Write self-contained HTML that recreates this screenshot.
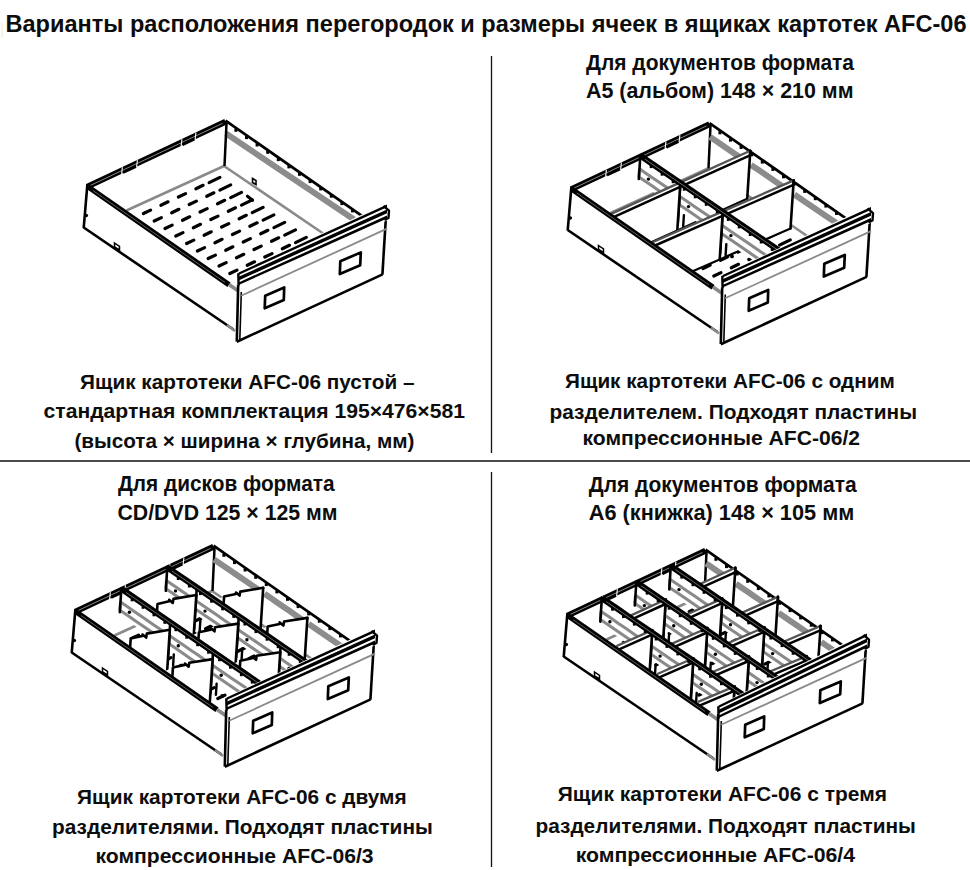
<!DOCTYPE html>
<html><head><meta charset="utf-8">
<style>
html,body{margin:0;padding:0;background:#fff;}
body{width:970px;height:870px;overflow:hidden;position:relative;}
svg{position:absolute;left:0;top:0;}
.t{font-family:"Liberation Sans",sans-serif;font-weight:bold;fill:#0d0d0d;}
</style></head><body>
<svg width="970" height="870" viewBox="0 0 970 870">
<g class="t">
<text x="5.5" y="32.3" font-size="23" textLength="961" lengthAdjust="spacingAndGlyphs">Варианты расположения перегородок и размеры ячеек в ящиках картотек AFC-06</text>
<g font-size="21.2">
<text x="586" y="69.5" textLength="268" lengthAdjust="spacingAndGlyphs">Для документов формата</text>
<text x="586" y="97.6" textLength="267.5" lengthAdjust="spacingAndGlyphs">A5 (альбом) 148 × 210 мм</text>
<text x="118" y="491.4" textLength="216.5" lengthAdjust="spacingAndGlyphs">Для дисков формата</text>
<text x="117.5" y="519.5" textLength="220" lengthAdjust="spacingAndGlyphs">CD/DVD 125 × 125 мм</text>
<text x="588.8" y="492.2" textLength="267.8" lengthAdjust="spacingAndGlyphs">Для документов формата</text>
<text x="588.8" y="519.8" textLength="265.5" lengthAdjust="spacingAndGlyphs">A6 (книжка) 148 × 105 мм</text>
</g>
<g font-size="19.8">
<text x="80" y="388.5" textLength="334.5" lengthAdjust="spacingAndGlyphs">Ящик картотеки AFC-06 пустой –</text>
<text x="43.5" y="418.4" textLength="421.5" lengthAdjust="spacingAndGlyphs">стандартная комплектация 195×476×581</text>
<text x="74.4" y="447.7" textLength="340" lengthAdjust="spacingAndGlyphs">(высота × ширина × глубина, мм)</text>
<text x="565" y="388.3" textLength="329.8" lengthAdjust="spacingAndGlyphs">Ящик картотеки AFC-06 с одним</text>
<text x="549.5" y="419.3" textLength="367.5" lengthAdjust="spacingAndGlyphs">разделителем. Подходят пластины</text>
<text x="582.5" y="445.1" textLength="277.6" lengthAdjust="spacingAndGlyphs">компрессионные AFC-06/2</text>
<text x="77.1" y="803.9" textLength="329.6" lengthAdjust="spacingAndGlyphs">Ящик картотеки AFC-06 с двумя</text>
<text x="52" y="833.6" textLength="380.8" lengthAdjust="spacingAndGlyphs">разделителями. Подходят пластины</text>
<text x="95.5" y="862.9" textLength="278.1" lengthAdjust="spacingAndGlyphs">компрессионные AFC-06/3</text>
<text x="557.7" y="800.8" textLength="329.3" lengthAdjust="spacingAndGlyphs">Ящик картотеки AFC-06 с тремя</text>
<text x="535.5" y="832.5" textLength="380.4" lengthAdjust="spacingAndGlyphs">разделителями. Подходят пластины</text>
<text x="575.7" y="861.5" textLength="279.4" lengthAdjust="spacingAndGlyphs">компрессионные AFC-06/4</text>
</g>
</g>
<g fill="none">
<line x1="0" y1="461" x2="970" y2="461" stroke-width="2" stroke="#4a4a4a"/>
<line x1="2" y1="23" x2="2" y2="38" stroke-width="1" stroke="#f0e8c4"/>
<line x1="491.5" y1="56" x2="491.5" y2="453" stroke-width="1.3" stroke="#111"/>
<line x1="491.5" y1="472" x2="491.5" y2="867" stroke-width="1.3" stroke="#111"/>
</g>

<g>
<line x1="126.5" y1="210.5" x2="224.0" y2="166.0" stroke="#8a8a8a" stroke-width="2.6" />
<line x1="224.0" y1="166.0" x2="332.0" y2="239.5" stroke="#8a8a8a" stroke-width="2.6" />
<line x1="226.0" y1="133.5" x2="354.0" y2="219.5" stroke="#8c8c8c" stroke-width="6" />
<line x1="226.6" y1="121.0" x2="224.5" y2="166.0" stroke="#000" stroke-width="2.5" />
<line x1="225.5" y1="120.6" x2="363.0" y2="216.6" stroke="#000" stroke-width="2.7" />
<rect x="234.4" y="128.6" width="3" height="3.2" fill="#000"/>
<rect x="245.0" y="135.9" width="3" height="3.2" fill="#000"/>
<rect x="255.6" y="143.3" width="3" height="3.2" fill="#000"/>
<rect x="266.2" y="150.6" width="3" height="3.2" fill="#000"/>
<rect x="276.8" y="157.9" width="3" height="3.2" fill="#000"/>
<rect x="287.4" y="165.2" width="3" height="3.2" fill="#000"/>
<rect x="298.0" y="172.6" width="3" height="3.2" fill="#000"/>
<rect x="308.6" y="179.9" width="3" height="3.2" fill="#000"/>
<rect x="319.2" y="187.2" width="3" height="3.2" fill="#000"/>
<rect x="329.8" y="194.5" width="3" height="3.2" fill="#000"/>
<rect x="340.4" y="201.9" width="3" height="3.2" fill="#000"/>
<rect x="351.0" y="209.2" width="3" height="3.2" fill="#000"/>
<line x1="87.4" y1="186.6" x2="225.5" y2="121.8" stroke="#000" stroke-width="6.0" />
<line x1="90.0" y1="185.6" x2="222.5" y2="123.4" stroke="#aaa" stroke-width="0.8" />
<line x1="123.0" y1="172.5" x2="136.0" y2="166.4" stroke="#000" stroke-width="3.0" />
<line x1="122.4" y1="167.2" x2="121.6" y2="174.4" stroke="#fff" stroke-width="1.1" />
<line x1="137.4" y1="160.1" x2="136.6" y2="167.3" stroke="#fff" stroke-width="1.1" />
<line x1="182.5" y1="144.6" x2="194.5" y2="138.9" stroke="#000" stroke-width="3.0" />
<line x1="181.9" y1="139.2" x2="181.1" y2="146.4" stroke="#fff" stroke-width="1.1" />
<line x1="195.9" y1="132.6" x2="195.1" y2="139.8" stroke="#fff" stroke-width="1.1" />
<line x1="143.4" y1="213.5" x2="150.6" y2="210.1" stroke="#000" stroke-width="3.2" stroke-linecap="round"/>
<line x1="160.9" y1="205.3" x2="168.1" y2="201.8" stroke="#000" stroke-width="3.2" stroke-linecap="round"/>
<line x1="178.4" y1="197.0" x2="185.6" y2="193.6" stroke="#000" stroke-width="3.2" stroke-linecap="round"/>
<line x1="195.9" y1="188.8" x2="203.1" y2="185.3" stroke="#000" stroke-width="3.2" stroke-linecap="round"/>
<line x1="209.1" y1="182.6" x2="219.9" y2="177.4" stroke="#000" stroke-width="3.2" stroke-linecap="round"/>
<line x1="154.2" y1="221.0" x2="161.4" y2="217.6" stroke="#000" stroke-width="3.2" stroke-linecap="round"/>
<line x1="171.7" y1="212.8" x2="178.9" y2="209.3" stroke="#000" stroke-width="3.2" stroke-linecap="round"/>
<line x1="189.2" y1="204.5" x2="196.4" y2="201.1" stroke="#000" stroke-width="3.2" stroke-linecap="round"/>
<line x1="206.7" y1="196.3" x2="213.9" y2="192.8" stroke="#000" stroke-width="3.2" stroke-linecap="round"/>
<line x1="219.9" y1="190.1" x2="230.7" y2="184.9" stroke="#000" stroke-width="3.2" stroke-linecap="round"/>
<line x1="165.0" y1="228.5" x2="172.2" y2="225.1" stroke="#000" stroke-width="3.2" stroke-linecap="round"/>
<line x1="182.5" y1="220.3" x2="189.7" y2="216.8" stroke="#000" stroke-width="3.2" stroke-linecap="round"/>
<line x1="200.0" y1="212.0" x2="207.2" y2="208.6" stroke="#000" stroke-width="3.2" stroke-linecap="round"/>
<line x1="217.5" y1="203.8" x2="224.7" y2="200.3" stroke="#000" stroke-width="3.2" stroke-linecap="round"/>
<line x1="230.7" y1="197.6" x2="241.5" y2="192.4" stroke="#000" stroke-width="3.2" stroke-linecap="round"/>
<line x1="175.8" y1="236.0" x2="183.0" y2="232.6" stroke="#000" stroke-width="3.2" stroke-linecap="round"/>
<line x1="193.3" y1="227.8" x2="200.5" y2="224.3" stroke="#000" stroke-width="3.2" stroke-linecap="round"/>
<line x1="210.8" y1="219.5" x2="218.0" y2="216.1" stroke="#000" stroke-width="3.2" stroke-linecap="round"/>
<line x1="228.3" y1="211.3" x2="235.5" y2="207.8" stroke="#000" stroke-width="3.2" stroke-linecap="round"/>
<line x1="241.5" y1="205.1" x2="252.3" y2="199.9" stroke="#000" stroke-width="3.2" stroke-linecap="round"/>
<line x1="186.6" y1="243.5" x2="193.8" y2="240.1" stroke="#000" stroke-width="3.2" stroke-linecap="round"/>
<line x1="204.1" y1="235.3" x2="211.3" y2="231.8" stroke="#000" stroke-width="3.2" stroke-linecap="round"/>
<line x1="221.6" y1="227.0" x2="228.8" y2="223.6" stroke="#000" stroke-width="3.2" stroke-linecap="round"/>
<line x1="239.1" y1="218.8" x2="246.3" y2="215.3" stroke="#000" stroke-width="3.2" stroke-linecap="round"/>
<line x1="252.3" y1="212.6" x2="263.1" y2="207.4" stroke="#000" stroke-width="3.2" stroke-linecap="round"/>
<line x1="197.4" y1="251.0" x2="204.6" y2="247.6" stroke="#000" stroke-width="3.2" stroke-linecap="round"/>
<line x1="214.9" y1="242.8" x2="222.1" y2="239.3" stroke="#000" stroke-width="3.2" stroke-linecap="round"/>
<line x1="232.4" y1="234.5" x2="239.6" y2="231.1" stroke="#000" stroke-width="3.2" stroke-linecap="round"/>
<line x1="249.9" y1="226.3" x2="257.1" y2="222.8" stroke="#000" stroke-width="3.2" stroke-linecap="round"/>
<line x1="263.1" y1="220.1" x2="273.9" y2="214.9" stroke="#000" stroke-width="3.2" stroke-linecap="round"/>
<line x1="208.2" y1="258.5" x2="215.4" y2="255.1" stroke="#000" stroke-width="3.2" stroke-linecap="round"/>
<line x1="225.7" y1="250.3" x2="232.9" y2="246.8" stroke="#000" stroke-width="3.2" stroke-linecap="round"/>
<line x1="243.2" y1="242.0" x2="250.4" y2="238.6" stroke="#000" stroke-width="3.2" stroke-linecap="round"/>
<line x1="260.7" y1="233.8" x2="267.9" y2="230.3" stroke="#000" stroke-width="3.2" stroke-linecap="round"/>
<line x1="273.9" y1="227.6" x2="284.7" y2="222.4" stroke="#000" stroke-width="3.2" stroke-linecap="round"/>
<line x1="219.0" y1="266.0" x2="226.2" y2="262.6" stroke="#000" stroke-width="3.2" stroke-linecap="round"/>
<line x1="236.5" y1="257.8" x2="243.7" y2="254.3" stroke="#000" stroke-width="3.2" stroke-linecap="round"/>
<line x1="254.0" y1="249.5" x2="261.2" y2="246.1" stroke="#000" stroke-width="3.2" stroke-linecap="round"/>
<line x1="271.5" y1="241.3" x2="278.7" y2="237.8" stroke="#000" stroke-width="3.2" stroke-linecap="round"/>
<line x1="284.7" y1="235.1" x2="295.5" y2="229.9" stroke="#000" stroke-width="3.2" stroke-linecap="round"/>
<line x1="229.8" y1="273.5" x2="237.0" y2="270.1" stroke="#000" stroke-width="3.2" stroke-linecap="round"/>
<line x1="247.3" y1="265.3" x2="254.5" y2="261.8" stroke="#000" stroke-width="3.2" stroke-linecap="round"/>
<line x1="264.8" y1="257.0" x2="272.0" y2="253.6" stroke="#000" stroke-width="3.2" stroke-linecap="round"/>
<line x1="282.3" y1="248.8" x2="289.5" y2="245.3" stroke="#000" stroke-width="3.2" stroke-linecap="round"/>
<line x1="295.5" y1="242.6" x2="306.3" y2="237.4" stroke="#000" stroke-width="3.2" stroke-linecap="round"/>
<line x1="247.4" y1="196.2" x2="252.6" y2="200.3" stroke="#000" stroke-width="3.0" stroke-linecap="round"/>
<polygon points="252.5,178.5 256.0,180.5 256.0,184.5 252.5,182.5" stroke="#000" stroke-width="1.6" fill="none" />
<polygon points="87.6,186.0 229.0,284.0 238.0,291.0 236.8,341.5 233.5,329.5 83.7,227.5" stroke="none" stroke-width="0" fill="#fff" />
<line x1="87.4" y1="184.2" x2="83.7" y2="228.0" stroke="#000" stroke-width="2.6" />
<line x1="83.7" y1="227.5" x2="233.5" y2="329.5" stroke="#000" stroke-width="2.6" />
<circle cx="86.3" cy="215.5" r="1.8" fill="#000"/>
<polygon points="114.5,243.0 119.5,246.5 119.5,250.0 114.5,247.0" stroke="#000" stroke-width="1.5" fill="none" />
<line x1="87.8" y1="186.6" x2="229.0" y2="284.8" stroke="#000" stroke-width="5.4" />
<line x1="93.0" y1="190.6" x2="225.0" y2="282.4" stroke="#777" stroke-width="0.8" />
<line x1="229.0" y1="284.5" x2="239.0" y2="291.5" stroke="#8a8a8a" stroke-width="3.6" />
<line x1="227.0" y1="325.0" x2="235.0" y2="331.0" stroke="#8a8a8a" stroke-width="2.5" />
<polygon points="238.2,284.0 386.0,219.0 382.4,274.2 236.8,341.5" stroke="none" stroke-width="0" fill="#fff" />
<line x1="238.2" y1="285.0" x2="236.8" y2="341.5" stroke="#000" stroke-width="2.6" />
<line x1="241.3" y1="292.0" x2="239.8" y2="340.2" stroke="#000" stroke-width="1.6" />
<line x1="236.8" y1="341.8" x2="382.6" y2="274.4" stroke="#000" stroke-width="2.6" />
<line x1="385.8" y1="218.8" x2="382.4" y2="274.6" stroke="#000" stroke-width="2.6" />
<line x1="241.1" y1="295.8" x2="387.0" y2="228.6" stroke="#8a8a8a" stroke-width="1.8" />
<polygon points="238.6,271.9 387.0,202.9 389.0,219.4 238.6,284.9" stroke="none" stroke-width="0" fill="#fff" />
<polygon points="238.6,272.4 387.0,204.4 387.0,207.3 238.6,274.9" stroke="none" stroke-width="0" fill="#000" />
<polygon points="238.6,276.8 387.0,209.4 387.0,213.3 238.6,280.4" stroke="none" stroke-width="0" fill="#000" />
<polygon points="238.6,282.4 387.0,215.4 387.0,218.6 238.6,285.0" stroke="none" stroke-width="0" fill="#000" />
<line x1="238.3" y1="273.3" x2="238.6" y2="285.5" stroke="#000" stroke-width="2.4" />
<polyline points="383.5,205.8 389.0,210.6 388.5,218.0 384.5,219.8" stroke="#000" stroke-width="2.4" fill="none" stroke-linejoin="round"/>
<polygon points="265.2,295.8 284.2,287.4 283.8,300.0 264.7,308.3" stroke="#000" stroke-width="2.7" fill="none" stroke-linejoin="round"/>
<polygon points="340.3,261.3 360.8,252.4 360.2,265.2 339.8,274.0" stroke="#000" stroke-width="2.7" fill="none" stroke-linejoin="round"/>
</g>
<g transform="translate(484,2.5)">
<line x1="126.5" y1="210.5" x2="224.0" y2="166.0" stroke="#8a8a8a" stroke-width="2.6" /><line x1="224.0" y1="166.0" x2="332.0" y2="239.5" stroke="#8a8a8a" stroke-width="2.6" />
<line x1="226.6" y1="121.0" x2="224.5" y2="166.0" stroke="#000" stroke-width="2.5" />
<line x1="225.5" y1="120.6" x2="363.0" y2="216.6" stroke="#000" stroke-width="2.7" />
<rect x="234.4" y="128.6" width="3" height="3.2" fill="#000"/>
<rect x="245.0" y="135.9" width="3" height="3.2" fill="#000"/>
<rect x="255.6" y="143.3" width="3" height="3.2" fill="#000"/>
<rect x="266.2" y="150.6" width="3" height="3.2" fill="#000"/>
<rect x="276.8" y="157.9" width="3" height="3.2" fill="#000"/>
<rect x="287.4" y="165.2" width="3" height="3.2" fill="#000"/>
<rect x="298.0" y="172.6" width="3" height="3.2" fill="#000"/>
<rect x="308.6" y="179.9" width="3" height="3.2" fill="#000"/>
<rect x="319.2" y="187.2" width="3" height="3.2" fill="#000"/>
<rect x="329.8" y="194.5" width="3" height="3.2" fill="#000"/>
<rect x="340.4" y="201.9" width="3" height="3.2" fill="#000"/>
<rect x="351.0" y="209.2" width="3" height="3.2" fill="#000"/>
<line x1="87.4" y1="186.6" x2="225.5" y2="121.8" stroke="#000" stroke-width="6.0" />
<line x1="90.0" y1="185.6" x2="222.5" y2="123.4" stroke="#aaa" stroke-width="0.8" />
<line x1="123.0" y1="172.5" x2="136.0" y2="166.4" stroke="#000" stroke-width="3.0" />
<line x1="122.4" y1="167.2" x2="121.6" y2="174.4" stroke="#fff" stroke-width="1.1" />
<line x1="137.4" y1="160.1" x2="136.6" y2="167.3" stroke="#fff" stroke-width="1.1" />
<line x1="182.5" y1="144.6" x2="194.5" y2="138.9" stroke="#000" stroke-width="3.0" />
<line x1="181.9" y1="139.2" x2="181.1" y2="146.4" stroke="#fff" stroke-width="1.1" />
<line x1="195.9" y1="132.6" x2="195.1" y2="139.8" stroke="#fff" stroke-width="1.1" />
<line x1="143.4" y1="213.5" x2="150.6" y2="210.1" stroke="#000" stroke-width="3.2" stroke-linecap="round"/>
<line x1="160.9" y1="205.3" x2="168.1" y2="201.8" stroke="#000" stroke-width="3.2" stroke-linecap="round"/>
<line x1="178.4" y1="197.0" x2="185.6" y2="193.6" stroke="#000" stroke-width="3.2" stroke-linecap="round"/>
<line x1="195.9" y1="188.8" x2="203.1" y2="185.3" stroke="#000" stroke-width="3.2" stroke-linecap="round"/>
<line x1="209.1" y1="182.6" x2="219.9" y2="177.4" stroke="#000" stroke-width="3.2" stroke-linecap="round"/>
<line x1="154.2" y1="221.0" x2="161.4" y2="217.6" stroke="#000" stroke-width="3.2" stroke-linecap="round"/>
<line x1="171.7" y1="212.8" x2="178.9" y2="209.3" stroke="#000" stroke-width="3.2" stroke-linecap="round"/>
<line x1="189.2" y1="204.5" x2="196.4" y2="201.1" stroke="#000" stroke-width="3.2" stroke-linecap="round"/>
<line x1="206.7" y1="196.3" x2="213.9" y2="192.8" stroke="#000" stroke-width="3.2" stroke-linecap="round"/>
<line x1="219.9" y1="190.1" x2="230.7" y2="184.9" stroke="#000" stroke-width="3.2" stroke-linecap="round"/>
<line x1="165.0" y1="228.5" x2="172.2" y2="225.1" stroke="#000" stroke-width="3.2" stroke-linecap="round"/>
<line x1="182.5" y1="220.3" x2="189.7" y2="216.8" stroke="#000" stroke-width="3.2" stroke-linecap="round"/>
<line x1="200.0" y1="212.0" x2="207.2" y2="208.6" stroke="#000" stroke-width="3.2" stroke-linecap="round"/>
<line x1="217.5" y1="203.8" x2="224.7" y2="200.3" stroke="#000" stroke-width="3.2" stroke-linecap="round"/>
<line x1="230.7" y1="197.6" x2="241.5" y2="192.4" stroke="#000" stroke-width="3.2" stroke-linecap="round"/>
<line x1="175.8" y1="236.0" x2="183.0" y2="232.6" stroke="#000" stroke-width="3.2" stroke-linecap="round"/>
<line x1="193.3" y1="227.8" x2="200.5" y2="224.3" stroke="#000" stroke-width="3.2" stroke-linecap="round"/>
<line x1="210.8" y1="219.5" x2="218.0" y2="216.1" stroke="#000" stroke-width="3.2" stroke-linecap="round"/>
<line x1="228.3" y1="211.3" x2="235.5" y2="207.8" stroke="#000" stroke-width="3.2" stroke-linecap="round"/>
<line x1="241.5" y1="205.1" x2="252.3" y2="199.9" stroke="#000" stroke-width="3.2" stroke-linecap="round"/>
<line x1="186.6" y1="243.5" x2="193.8" y2="240.1" stroke="#000" stroke-width="3.2" stroke-linecap="round"/>
<line x1="204.1" y1="235.3" x2="211.3" y2="231.8" stroke="#000" stroke-width="3.2" stroke-linecap="round"/>
<line x1="221.6" y1="227.0" x2="228.8" y2="223.6" stroke="#000" stroke-width="3.2" stroke-linecap="round"/>
<line x1="239.1" y1="218.8" x2="246.3" y2="215.3" stroke="#000" stroke-width="3.2" stroke-linecap="round"/>
<line x1="252.3" y1="212.6" x2="263.1" y2="207.4" stroke="#000" stroke-width="3.2" stroke-linecap="round"/>
<line x1="197.4" y1="251.0" x2="204.6" y2="247.6" stroke="#000" stroke-width="3.2" stroke-linecap="round"/>
<line x1="214.9" y1="242.8" x2="222.1" y2="239.3" stroke="#000" stroke-width="3.2" stroke-linecap="round"/>
<line x1="232.4" y1="234.5" x2="239.6" y2="231.1" stroke="#000" stroke-width="3.2" stroke-linecap="round"/>
<line x1="249.9" y1="226.3" x2="257.1" y2="222.8" stroke="#000" stroke-width="3.2" stroke-linecap="round"/>
<line x1="263.1" y1="220.1" x2="273.9" y2="214.9" stroke="#000" stroke-width="3.2" stroke-linecap="round"/>
<line x1="208.2" y1="258.5" x2="215.4" y2="255.1" stroke="#000" stroke-width="3.2" stroke-linecap="round"/>
<line x1="225.7" y1="250.3" x2="232.9" y2="246.8" stroke="#000" stroke-width="3.2" stroke-linecap="round"/>
<line x1="243.2" y1="242.0" x2="250.4" y2="238.6" stroke="#000" stroke-width="3.2" stroke-linecap="round"/>
<line x1="260.7" y1="233.8" x2="267.9" y2="230.3" stroke="#000" stroke-width="3.2" stroke-linecap="round"/>
<line x1="273.9" y1="227.6" x2="284.7" y2="222.4" stroke="#000" stroke-width="3.2" stroke-linecap="round"/>
<line x1="219.0" y1="266.0" x2="226.2" y2="262.6" stroke="#000" stroke-width="3.2" stroke-linecap="round"/>
<line x1="236.5" y1="257.8" x2="243.7" y2="254.3" stroke="#000" stroke-width="3.2" stroke-linecap="round"/>
<line x1="254.0" y1="249.5" x2="261.2" y2="246.1" stroke="#000" stroke-width="3.2" stroke-linecap="round"/>
<line x1="271.5" y1="241.3" x2="278.7" y2="237.8" stroke="#000" stroke-width="3.2" stroke-linecap="round"/>
<line x1="284.7" y1="235.1" x2="295.5" y2="229.9" stroke="#000" stroke-width="3.2" stroke-linecap="round"/>
<line x1="229.8" y1="273.5" x2="237.0" y2="270.1" stroke="#000" stroke-width="3.2" stroke-linecap="round"/>
<line x1="247.3" y1="265.3" x2="254.5" y2="261.8" stroke="#000" stroke-width="3.2" stroke-linecap="round"/>
<line x1="264.8" y1="257.0" x2="272.0" y2="253.6" stroke="#000" stroke-width="3.2" stroke-linecap="round"/>
<line x1="282.3" y1="248.8" x2="289.5" y2="245.3" stroke="#000" stroke-width="3.2" stroke-linecap="round"/>
<line x1="295.5" y1="242.6" x2="306.3" y2="237.4" stroke="#000" stroke-width="3.2" stroke-linecap="round"/>
<polyline points="226.0,134.4 231.8,138.3 237.6,142.3 243.4,146.2 249.2,150.2 254.9,154.1 260.7,158.1" fill="none" stroke="#8c8c8c" stroke-width="6.0" stroke-linecap="butt" stroke-linejoin="round"/>
<polyline points="267.0,162.4 273.2,166.6 279.4,170.8 285.6,175.0 291.7,179.3 297.9,183.5 304.1,187.7" fill="none" stroke="#8c8c8c" stroke-width="6.0" stroke-linecap="butt" stroke-linejoin="round"/>
<polyline points="310.4,192.0 320.5,198.9 330.6,205.8 340.8,212.7 350.9,219.6 361.0,226.6 371.1,233.5" fill="none" stroke="#8c8c8c" stroke-width="6.0" stroke-linecap="butt" stroke-linejoin="round"/>
<polygon points="196.4,179.9 266.3,148.3 263.2,196.3 193.3,227.9" fill="#fff"/>
<polyline points="193.3,227.9 263.2,196.3" fill="none" stroke="#000" stroke-width="2.2" stroke-linecap="round" stroke-linejoin="round"/>
<polyline points="196.4,179.9 266.3,148.3" fill="none" stroke="#555" stroke-width="2.3" stroke-linecap="round" stroke-linejoin="round"/>
<polyline points="196.1,184.4 266.0,152.8" fill="none" stroke="#000" stroke-width="2.5" stroke-linecap="round" stroke-linejoin="round"/>
<polyline points="266.3,148.3 263.2,196.3" fill="none" stroke="#000" stroke-width="2.6" stroke-linecap="round" stroke-linejoin="round"/>
<polyline points="266.3,148.3 266.0,152.8" fill="none" stroke="#000" stroke-width="2.4" stroke-linecap="round" stroke-linejoin="round"/>
<polygon points="238.8,208.9 309.7,177.9 306.5,225.9 235.7,256.9" fill="#fff"/>
<polyline points="235.7,256.9 306.5,225.9" fill="none" stroke="#000" stroke-width="2.2" stroke-linecap="round" stroke-linejoin="round"/>
<polyline points="238.8,208.9 309.7,177.9" fill="none" stroke="#555" stroke-width="2.3" stroke-linecap="round" stroke-linejoin="round"/>
<polyline points="238.5,213.4 309.4,182.4" fill="none" stroke="#000" stroke-width="2.5" stroke-linecap="round" stroke-linejoin="round"/>
<polyline points="309.7,177.9 306.5,225.9" fill="none" stroke="#000" stroke-width="2.6" stroke-linecap="round" stroke-linejoin="round"/>
<polyline points="309.7,177.9 309.4,182.4" fill="none" stroke="#000" stroke-width="2.4" stroke-linecap="round" stroke-linejoin="round"/>
<polygon points="156.4,152.5 196.4,179.9 194.7,206.9 154.6,179.5" fill="#fff"/>
<polyline points="155.5,166.3 162.1,170.9 168.8,175.4 175.5,180.0 182.2,184.6 188.9,189.2 195.5,193.7" fill="none" stroke="#8a8a8a" stroke-width="3.0" stroke-linecap="butt" stroke-linejoin="round"/>
<polyline points="154.9,174.5 161.6,179.1 168.3,183.6 175.0,188.2 181.6,192.8 188.3,197.4 195.0,201.9" fill="none" stroke="#8a8a8a" stroke-width="3.0" stroke-linecap="butt" stroke-linejoin="round"/>
<polyline points="155.5,166.3 154.9,174.5" fill="none" stroke="#8a8a8a" stroke-width="3.0" stroke-linecap="butt" stroke-linejoin="round"/>
<circle cx="164.4" cy="176.6" r="1.7" fill="#000"/>
<polyline points="156.4,152.5 154.8,176.5" fill="none" stroke="#000" stroke-width="2.6" stroke-linecap="round" stroke-linejoin="round"/>
<polygon points="196.4,179.9 238.8,208.9 237.1,235.9 194.7,206.9" fill="#fff"/>
<polyline points="195.5,193.7 202.6,198.6 209.7,203.4 216.7,208.2 223.8,213.1 230.9,217.9 237.9,222.7" fill="none" stroke="#8a8a8a" stroke-width="3.0" stroke-linecap="butt" stroke-linejoin="round"/>
<polyline points="195.0,201.9 202.1,206.8 209.1,211.6 216.2,216.4 223.3,221.3 230.3,226.1 237.4,230.9" fill="none" stroke="#8a8a8a" stroke-width="3.0" stroke-linecap="butt" stroke-linejoin="round"/>
<polyline points="195.5,193.7 195.0,201.9" fill="none" stroke="#8a8a8a" stroke-width="3.0" stroke-linecap="butt" stroke-linejoin="round"/>
<circle cx="204.5" cy="204.1" r="1.7" fill="#000"/>
<polyline points="199.9,212.6 199.2,223.6" fill="none" stroke="#000" stroke-width="2.4" stroke-linecap="round" stroke-linejoin="round"/>
<circle cx="205.6" cy="224.8" r="1.9" fill="#000"/>
<polyline points="196.4,179.9 193.7,221.9" fill="none" stroke="#000" stroke-width="2.6" stroke-linecap="round" stroke-linejoin="round"/>
<polygon points="238.8,208.9 310.5,258.0 308.7,285.0 237.1,235.9" fill="#fff"/>
<polyline points="237.9,222.7 249.9,230.9 261.8,239.1 273.8,247.3 285.7,255.4 297.7,263.6 309.6,271.8" fill="none" stroke="#8a8a8a" stroke-width="3.0" stroke-linecap="butt" stroke-linejoin="round"/>
<polyline points="237.4,230.9 249.3,239.1 261.3,247.3 273.2,255.5 285.2,263.6 297.1,271.8 309.1,280.0" fill="none" stroke="#8a8a8a" stroke-width="3.0" stroke-linecap="butt" stroke-linejoin="round"/>
<polyline points="237.9,222.7 237.4,230.9" fill="none" stroke="#8a8a8a" stroke-width="3.0" stroke-linecap="butt" stroke-linejoin="round"/>
<circle cx="246.9" cy="233.1" r="1.7" fill="#000"/>
<polyline points="242.3,241.6 241.6,252.6" fill="none" stroke="#000" stroke-width="2.4" stroke-linecap="round" stroke-linejoin="round"/>
<circle cx="248.0" cy="253.9" r="1.9" fill="#000"/>
<polyline points="238.8,208.9 236.1,250.9" fill="none" stroke="#000" stroke-width="2.6" stroke-linecap="round" stroke-linejoin="round"/>
<polygon points="126.6,211.6 196.4,179.9 193.3,227.9 123.4,259.6" fill="#fff"/>
<polyline points="133.2,255.1 193.3,227.9" fill="none" stroke="#000" stroke-width="2.2" stroke-linecap="round" stroke-linejoin="round"/>
<polyline points="126.6,211.6 196.4,179.9" fill="none" stroke="#555" stroke-width="2.3" stroke-linecap="round" stroke-linejoin="round"/>
<polyline points="126.3,216.1 196.1,184.4" fill="none" stroke="#000" stroke-width="2.5" stroke-linecap="round" stroke-linejoin="round"/>
<polyline points="196.4,179.9 193.3,227.9" fill="none" stroke="#000" stroke-width="2.6" stroke-linecap="round" stroke-linejoin="round"/>
<polyline points="196.4,179.9 196.1,184.4" fill="none" stroke="#000" stroke-width="2.4" stroke-linecap="round" stroke-linejoin="round"/>
<polygon points="168.0,240.0 238.8,208.9 235.7,256.9 164.9,288.0" fill="#fff"/>
<polyline points="174.8,283.6 235.7,256.9" fill="none" stroke="#000" stroke-width="2.2" stroke-linecap="round" stroke-linejoin="round"/>
<polyline points="168.0,240.0 238.8,208.9" fill="none" stroke="#555" stroke-width="2.3" stroke-linecap="round" stroke-linejoin="round"/>
<polyline points="167.7,244.5 238.5,213.4" fill="none" stroke="#000" stroke-width="2.5" stroke-linecap="round" stroke-linejoin="round"/>
<polyline points="238.8,208.9 235.7,256.9" fill="none" stroke="#000" stroke-width="2.6" stroke-linecap="round" stroke-linejoin="round"/>
<polyline points="238.8,208.9 238.5,213.4" fill="none" stroke="#000" stroke-width="2.4" stroke-linecap="round" stroke-linejoin="round"/>
<polyline points="156.3,153.1 171.7,163.7 187.1,174.2 202.6,184.7 218.0,195.3 233.4,205.8 248.8,216.4 264.2,227.0 279.6,237.5 295.0,248.0 310.5,258.6" fill="none" stroke="#000" stroke-width="6.0" stroke-linecap="butt" stroke-linejoin="round"/>
<polyline points="160.9,156.7 175.9,166.9 190.8,177.1 205.8,187.4 220.7,197.6 235.7,207.8 250.6,218.1 265.6,228.3 280.5,238.5 295.5,248.8 310.4,259.0" fill="none" stroke="#999" stroke-width="0.7" stroke-linecap="butt" stroke-linejoin="round"/>
<rect x="165.7" y="162.6" width="2.8" height="3" fill="#000"/>
<rect x="176.7" y="170.2" width="2.8" height="3" fill="#000"/>
<rect x="187.7" y="177.7" width="2.8" height="3" fill="#000"/>
<rect x="198.8" y="185.2" width="2.8" height="3" fill="#000"/>
<rect x="209.8" y="192.8" width="2.8" height="3" fill="#000"/>
<rect x="220.8" y="200.3" width="2.8" height="3" fill="#000"/>
<rect x="231.8" y="207.8" width="2.8" height="3" fill="#000"/>
<rect x="242.8" y="215.4" width="2.8" height="3" fill="#000"/>
<rect x="253.8" y="222.9" width="2.8" height="3" fill="#000"/>
<rect x="264.8" y="230.5" width="2.8" height="3" fill="#000"/>
<rect x="275.8" y="238.0" width="2.8" height="3" fill="#000"/>
<rect x="286.8" y="245.5" width="2.8" height="3" fill="#000"/>
<rect x="297.9" y="253.1" width="2.8" height="3" fill="#000"/>
<polygon points="87.6,186.0 229.0,284.0 238.0,291.0 236.8,341.5 233.5,329.5 83.7,227.5" stroke="none" stroke-width="0" fill="#fff" />
<line x1="87.4" y1="184.2" x2="83.7" y2="228.0" stroke="#000" stroke-width="2.6" />
<line x1="83.7" y1="227.5" x2="233.5" y2="329.5" stroke="#000" stroke-width="2.6" />
<circle cx="86.3" cy="215.5" r="1.8" fill="#000"/>
<polygon points="114.5,243.0 119.5,246.5 119.5,250.0 114.5,247.0" stroke="#000" stroke-width="1.5" fill="none" />
<line x1="87.8" y1="186.6" x2="229.0" y2="284.8" stroke="#000" stroke-width="5.4" />
<line x1="93.0" y1="190.6" x2="225.0" y2="282.4" stroke="#777" stroke-width="0.8" />
<line x1="229.0" y1="284.5" x2="239.0" y2="291.5" stroke="#8a8a8a" stroke-width="3.6" />
<line x1="227.0" y1="325.0" x2="235.0" y2="331.0" stroke="#8a8a8a" stroke-width="2.5" />
<polygon points="238.2,284.0 386.0,219.0 382.4,274.2 236.8,341.5" stroke="none" stroke-width="0" fill="#fff" />
<line x1="238.2" y1="285.0" x2="236.8" y2="341.5" stroke="#000" stroke-width="2.6" />
<line x1="241.3" y1="292.0" x2="239.8" y2="340.2" stroke="#000" stroke-width="1.6" />
<line x1="236.8" y1="341.8" x2="382.6" y2="274.4" stroke="#000" stroke-width="2.6" />
<line x1="385.8" y1="218.8" x2="382.4" y2="274.6" stroke="#000" stroke-width="2.6" />
<line x1="241.1" y1="295.8" x2="387.0" y2="228.6" stroke="#8a8a8a" stroke-width="1.8" />
<polygon points="238.6,271.9 387.0,202.9 389.0,219.4 238.6,284.9" stroke="none" stroke-width="0" fill="#fff" />
<polygon points="238.6,272.4 387.0,204.4 387.0,207.3 238.6,274.9" stroke="none" stroke-width="0" fill="#000" />
<polygon points="238.6,276.8 387.0,209.4 387.0,213.3 238.6,280.4" stroke="none" stroke-width="0" fill="#000" />
<polygon points="238.6,282.4 387.0,215.4 387.0,218.6 238.6,285.0" stroke="none" stroke-width="0" fill="#000" />
<line x1="238.3" y1="273.3" x2="238.6" y2="285.5" stroke="#000" stroke-width="2.4" />
<polyline points="383.5,205.8 389.0,210.6 388.5,218.0 384.5,219.8" stroke="#000" stroke-width="2.4" fill="none" stroke-linejoin="round"/>
<polygon points="265.2,295.8 284.2,287.4 283.8,300.0 264.7,308.3" stroke="#000" stroke-width="2.7" fill="none" stroke-linejoin="round"/>
<polygon points="340.3,261.3 360.8,252.4 360.2,265.2 339.8,274.0" stroke="#000" stroke-width="2.7" fill="none" stroke-linejoin="round"/>
</g>
<g transform="translate(-12,425)">
<line x1="126.5" y1="210.5" x2="224.0" y2="166.0" stroke="#8a8a8a" stroke-width="2.6" /><line x1="224.0" y1="166.0" x2="332.0" y2="239.5" stroke="#8a8a8a" stroke-width="2.6" />
<line x1="226.6" y1="121.0" x2="224.5" y2="166.0" stroke="#000" stroke-width="2.5" />
<line x1="225.5" y1="120.6" x2="363.0" y2="216.6" stroke="#000" stroke-width="2.7" />
<rect x="234.4" y="128.6" width="3" height="3.2" fill="#000"/>
<rect x="245.0" y="135.9" width="3" height="3.2" fill="#000"/>
<rect x="255.6" y="143.3" width="3" height="3.2" fill="#000"/>
<rect x="266.2" y="150.6" width="3" height="3.2" fill="#000"/>
<rect x="276.8" y="157.9" width="3" height="3.2" fill="#000"/>
<rect x="287.4" y="165.2" width="3" height="3.2" fill="#000"/>
<rect x="298.0" y="172.6" width="3" height="3.2" fill="#000"/>
<rect x="308.6" y="179.9" width="3" height="3.2" fill="#000"/>
<rect x="319.2" y="187.2" width="3" height="3.2" fill="#000"/>
<rect x="329.8" y="194.5" width="3" height="3.2" fill="#000"/>
<rect x="340.4" y="201.9" width="3" height="3.2" fill="#000"/>
<rect x="351.0" y="209.2" width="3" height="3.2" fill="#000"/>
<line x1="87.4" y1="186.6" x2="225.5" y2="121.8" stroke="#000" stroke-width="6.0" />
<line x1="90.0" y1="185.6" x2="222.5" y2="123.4" stroke="#aaa" stroke-width="0.8" />
<line x1="123.0" y1="172.5" x2="136.0" y2="166.4" stroke="#000" stroke-width="3.0" />
<line x1="122.4" y1="167.2" x2="121.6" y2="174.4" stroke="#fff" stroke-width="1.1" />
<line x1="137.4" y1="160.1" x2="136.6" y2="167.3" stroke="#fff" stroke-width="1.1" />
<line x1="182.5" y1="144.6" x2="194.5" y2="138.9" stroke="#000" stroke-width="3.0" />
<line x1="181.9" y1="139.2" x2="181.1" y2="146.4" stroke="#fff" stroke-width="1.1" />
<line x1="195.9" y1="132.6" x2="195.1" y2="139.8" stroke="#fff" stroke-width="1.1" />
<line x1="143.4" y1="213.5" x2="150.6" y2="210.1" stroke="#000" stroke-width="3.2" stroke-linecap="round"/>
<line x1="160.9" y1="205.3" x2="168.1" y2="201.8" stroke="#000" stroke-width="3.2" stroke-linecap="round"/>
<line x1="178.4" y1="197.0" x2="185.6" y2="193.6" stroke="#000" stroke-width="3.2" stroke-linecap="round"/>
<line x1="195.9" y1="188.8" x2="203.1" y2="185.3" stroke="#000" stroke-width="3.2" stroke-linecap="round"/>
<line x1="209.1" y1="182.6" x2="219.9" y2="177.4" stroke="#000" stroke-width="3.2" stroke-linecap="round"/>
<line x1="154.2" y1="221.0" x2="161.4" y2="217.6" stroke="#000" stroke-width="3.2" stroke-linecap="round"/>
<line x1="171.7" y1="212.8" x2="178.9" y2="209.3" stroke="#000" stroke-width="3.2" stroke-linecap="round"/>
<line x1="189.2" y1="204.5" x2="196.4" y2="201.1" stroke="#000" stroke-width="3.2" stroke-linecap="round"/>
<line x1="206.7" y1="196.3" x2="213.9" y2="192.8" stroke="#000" stroke-width="3.2" stroke-linecap="round"/>
<line x1="219.9" y1="190.1" x2="230.7" y2="184.9" stroke="#000" stroke-width="3.2" stroke-linecap="round"/>
<line x1="165.0" y1="228.5" x2="172.2" y2="225.1" stroke="#000" stroke-width="3.2" stroke-linecap="round"/>
<line x1="182.5" y1="220.3" x2="189.7" y2="216.8" stroke="#000" stroke-width="3.2" stroke-linecap="round"/>
<line x1="200.0" y1="212.0" x2="207.2" y2="208.6" stroke="#000" stroke-width="3.2" stroke-linecap="round"/>
<line x1="217.5" y1="203.8" x2="224.7" y2="200.3" stroke="#000" stroke-width="3.2" stroke-linecap="round"/>
<line x1="230.7" y1="197.6" x2="241.5" y2="192.4" stroke="#000" stroke-width="3.2" stroke-linecap="round"/>
<line x1="175.8" y1="236.0" x2="183.0" y2="232.6" stroke="#000" stroke-width="3.2" stroke-linecap="round"/>
<line x1="193.3" y1="227.8" x2="200.5" y2="224.3" stroke="#000" stroke-width="3.2" stroke-linecap="round"/>
<line x1="210.8" y1="219.5" x2="218.0" y2="216.1" stroke="#000" stroke-width="3.2" stroke-linecap="round"/>
<line x1="228.3" y1="211.3" x2="235.5" y2="207.8" stroke="#000" stroke-width="3.2" stroke-linecap="round"/>
<line x1="241.5" y1="205.1" x2="252.3" y2="199.9" stroke="#000" stroke-width="3.2" stroke-linecap="round"/>
<line x1="186.6" y1="243.5" x2="193.8" y2="240.1" stroke="#000" stroke-width="3.2" stroke-linecap="round"/>
<line x1="204.1" y1="235.3" x2="211.3" y2="231.8" stroke="#000" stroke-width="3.2" stroke-linecap="round"/>
<line x1="221.6" y1="227.0" x2="228.8" y2="223.6" stroke="#000" stroke-width="3.2" stroke-linecap="round"/>
<line x1="239.1" y1="218.8" x2="246.3" y2="215.3" stroke="#000" stroke-width="3.2" stroke-linecap="round"/>
<line x1="252.3" y1="212.6" x2="263.1" y2="207.4" stroke="#000" stroke-width="3.2" stroke-linecap="round"/>
<line x1="197.4" y1="251.0" x2="204.6" y2="247.6" stroke="#000" stroke-width="3.2" stroke-linecap="round"/>
<line x1="214.9" y1="242.8" x2="222.1" y2="239.3" stroke="#000" stroke-width="3.2" stroke-linecap="round"/>
<line x1="232.4" y1="234.5" x2="239.6" y2="231.1" stroke="#000" stroke-width="3.2" stroke-linecap="round"/>
<line x1="249.9" y1="226.3" x2="257.1" y2="222.8" stroke="#000" stroke-width="3.2" stroke-linecap="round"/>
<line x1="263.1" y1="220.1" x2="273.9" y2="214.9" stroke="#000" stroke-width="3.2" stroke-linecap="round"/>
<line x1="208.2" y1="258.5" x2="215.4" y2="255.1" stroke="#000" stroke-width="3.2" stroke-linecap="round"/>
<line x1="225.7" y1="250.3" x2="232.9" y2="246.8" stroke="#000" stroke-width="3.2" stroke-linecap="round"/>
<line x1="243.2" y1="242.0" x2="250.4" y2="238.6" stroke="#000" stroke-width="3.2" stroke-linecap="round"/>
<line x1="260.7" y1="233.8" x2="267.9" y2="230.3" stroke="#000" stroke-width="3.2" stroke-linecap="round"/>
<line x1="273.9" y1="227.6" x2="284.7" y2="222.4" stroke="#000" stroke-width="3.2" stroke-linecap="round"/>
<line x1="219.0" y1="266.0" x2="226.2" y2="262.6" stroke="#000" stroke-width="3.2" stroke-linecap="round"/>
<line x1="236.5" y1="257.8" x2="243.7" y2="254.3" stroke="#000" stroke-width="3.2" stroke-linecap="round"/>
<line x1="254.0" y1="249.5" x2="261.2" y2="246.1" stroke="#000" stroke-width="3.2" stroke-linecap="round"/>
<line x1="271.5" y1="241.3" x2="278.7" y2="237.8" stroke="#000" stroke-width="3.2" stroke-linecap="round"/>
<line x1="284.7" y1="235.1" x2="295.5" y2="229.9" stroke="#000" stroke-width="3.2" stroke-linecap="round"/>
<line x1="229.8" y1="273.5" x2="237.0" y2="270.1" stroke="#000" stroke-width="3.2" stroke-linecap="round"/>
<line x1="247.3" y1="265.3" x2="254.5" y2="261.8" stroke="#000" stroke-width="3.2" stroke-linecap="round"/>
<line x1="264.8" y1="257.0" x2="272.0" y2="253.6" stroke="#000" stroke-width="3.2" stroke-linecap="round"/>
<line x1="282.3" y1="248.8" x2="289.5" y2="245.3" stroke="#000" stroke-width="3.2" stroke-linecap="round"/>
<line x1="295.5" y1="242.6" x2="306.3" y2="237.4" stroke="#000" stroke-width="3.2" stroke-linecap="round"/>
<polyline points="226.0,134.4 233.4,139.4 240.8,144.4 248.1,149.5 255.5,154.5 262.8,159.5 270.2,164.5" fill="none" stroke="#8c8c8c" stroke-width="6.0" stroke-linecap="butt" stroke-linejoin="round"/>
<polyline points="276.5,168.8 282.8,173.1 289.1,177.5 295.4,181.8 301.7,186.1 308.0,190.4 314.3,194.7" fill="none" stroke="#8c8c8c" stroke-width="6.0" stroke-linecap="butt" stroke-linejoin="round"/>
<polyline points="320.7,199.0 329.1,204.7 337.5,210.5 345.9,216.2 354.3,222.0 362.7,227.7 371.1,233.5" fill="none" stroke="#8c8c8c" stroke-width="6.0" stroke-linecap="butt" stroke-linejoin="round"/>
<polygon points="229.1,174.8 236.1,171.6 275.2,162.8 272.5,204.8 226.4,216.8" fill="#fff"/>
<polyline points="235.3,183.6 236.1,171.6 247.9,169.0 248.0,167.5 251.6,170.6 252.3,166.6 275.2,162.8" fill="none" stroke="#000" stroke-width="2.6" stroke-linecap="round" stroke-linejoin="round"/>
<polyline points="275.2,162.8 272.5,204.8" fill="none" stroke="#000" stroke-width="2.6" stroke-linecap="round" stroke-linejoin="round"/>
<polygon points="272.6,204.5 279.7,201.4 319.4,192.9 316.7,234.9 269.9,246.5" fill="#fff"/>
<polyline points="278.9,213.4 279.7,201.4 291.6,198.9 291.7,197.4 295.4,200.5 296.1,196.5 319.4,192.9" fill="none" stroke="#000" stroke-width="2.6" stroke-linecap="round" stroke-linejoin="round"/>
<polyline points="319.4,192.9 316.7,234.9" fill="none" stroke="#000" stroke-width="2.6" stroke-linecap="round" stroke-linejoin="round"/>
<polygon points="179.3,141.8 208.8,162.0 207.1,189.0 177.6,168.8" fill="#fff"/>
<polyline points="178.4,155.6 183.4,158.9 188.3,162.3 193.2,165.7 198.1,169.0 203.0,172.4 207.9,175.8" fill="none" stroke="#8a8a8a" stroke-width="3.0" stroke-linecap="butt" stroke-linejoin="round"/>
<polyline points="177.9,163.8 182.8,167.1 187.7,170.5 192.7,173.9 197.6,177.2 202.5,180.6 207.4,184.0" fill="none" stroke="#8a8a8a" stroke-width="3.0" stroke-linecap="butt" stroke-linejoin="round"/>
<polyline points="178.4,155.6 177.9,163.8" fill="none" stroke="#8a8a8a" stroke-width="3.0" stroke-linecap="butt" stroke-linejoin="round"/>
<circle cx="187.5" cy="165.9" r="1.7" fill="#000"/>
<polyline points="179.3,141.8 177.8,165.8" fill="none" stroke="#000" stroke-width="2.6" stroke-linecap="round" stroke-linejoin="round"/>
<polygon points="208.8,162.0 250.8,190.6 249.0,217.6 207.1,189.0" fill="#fff"/>
<polyline points="207.9,175.8 214.9,180.5 221.9,185.3 228.9,190.1 235.9,194.9 242.9,199.7 249.9,204.4" fill="none" stroke="#8a8a8a" stroke-width="3.0" stroke-linecap="butt" stroke-linejoin="round"/>
<polyline points="207.4,184.0 214.4,188.7 221.4,193.5 228.4,198.3 235.4,203.1 242.4,207.9 249.4,212.6" fill="none" stroke="#8a8a8a" stroke-width="3.0" stroke-linecap="butt" stroke-linejoin="round"/>
<polyline points="207.9,175.8 207.4,184.0" fill="none" stroke="#8a8a8a" stroke-width="3.0" stroke-linecap="butt" stroke-linejoin="round"/>
<circle cx="217.0" cy="186.1" r="1.7" fill="#000"/>
<polyline points="212.4,194.7 211.7,205.7" fill="none" stroke="#000" stroke-width="2.4" stroke-linecap="round" stroke-linejoin="round"/>
<circle cx="218.1" cy="206.9" r="1.9" fill="#000"/>
<polyline points="208.8,162.0 206.1,204.0" fill="none" stroke="#000" stroke-width="2.6" stroke-linecap="round" stroke-linejoin="round"/>
<polygon points="250.8,190.6 292.7,219.3 291.0,246.3 249.0,217.6" fill="#fff"/>
<polyline points="249.9,204.4 256.9,209.2 263.9,214.0 270.9,218.8 277.8,223.6 284.8,228.3 291.8,233.1" fill="none" stroke="#8a8a8a" stroke-width="3.0" stroke-linecap="butt" stroke-linejoin="round"/>
<polyline points="249.4,212.6 256.3,217.4 263.3,222.2 270.3,227.0 277.3,231.8 284.3,236.5 291.3,241.3" fill="none" stroke="#8a8a8a" stroke-width="3.0" stroke-linecap="butt" stroke-linejoin="round"/>
<polyline points="249.9,204.4 249.4,212.6" fill="none" stroke="#8a8a8a" stroke-width="3.0" stroke-linecap="butt" stroke-linejoin="round"/>
<circle cx="258.9" cy="214.8" r="1.7" fill="#000"/>
<polyline points="254.3,223.4 253.6,234.4" fill="none" stroke="#000" stroke-width="2.4" stroke-linecap="round" stroke-linejoin="round"/>
<circle cx="260.0" cy="235.6" r="1.9" fill="#000"/>
<polyline points="250.8,190.6 248.1,232.6" fill="none" stroke="#000" stroke-width="2.6" stroke-linecap="round" stroke-linejoin="round"/>
<polygon points="292.7,219.3 334.7,248.0 332.9,275.0 291.0,246.3" fill="#fff"/>
<polyline points="291.8,233.1 298.8,237.9 305.8,242.7 312.8,247.5 319.8,252.2 326.8,257.0 333.8,261.8" fill="none" stroke="#8a8a8a" stroke-width="3.0" stroke-linecap="butt" stroke-linejoin="round"/>
<polyline points="291.3,241.3 298.3,246.1 305.3,250.9 312.3,255.7 319.3,260.4 326.2,265.2 333.2,270.0" fill="none" stroke="#8a8a8a" stroke-width="3.0" stroke-linecap="butt" stroke-linejoin="round"/>
<polyline points="291.8,233.1 291.3,241.3" fill="none" stroke="#8a8a8a" stroke-width="3.0" stroke-linecap="butt" stroke-linejoin="round"/>
<circle cx="300.9" cy="243.5" r="1.7" fill="#000"/>
<polyline points="296.3,252.0 295.6,263.0" fill="none" stroke="#000" stroke-width="2.4" stroke-linecap="round" stroke-linejoin="round"/>
<circle cx="302.0" cy="264.3" r="1.9" fill="#000"/>
<polyline points="292.7,219.3 290.0,261.3" fill="none" stroke="#000" stroke-width="2.6" stroke-linecap="round" stroke-linejoin="round"/>
<polygon points="162.5,182.1 169.5,179.0 208.3,170.0 205.6,212.0 159.8,224.1" fill="#fff"/>
<polyline points="168.7,191.0 169.5,179.0 181.1,176.3 181.2,174.8 184.8,177.9 185.5,173.9 208.3,170.0" fill="none" stroke="#000" stroke-width="2.6" stroke-linecap="round" stroke-linejoin="round"/>
<polyline points="208.3,170.0 205.6,212.0" fill="none" stroke="#000" stroke-width="2.6" stroke-linecap="round" stroke-linejoin="round"/>
<polygon points="203.8,210.4 210.9,207.3 250.3,198.6 247.5,240.6 201.1,252.4" fill="#fff"/>
<polyline points="210.1,219.3 210.9,207.3 222.7,204.7 222.8,203.2 226.5,206.3 227.1,202.3 250.3,198.6" fill="none" stroke="#000" stroke-width="2.6" stroke-linecap="round" stroke-linejoin="round"/>
<polyline points="250.3,198.6 247.5,240.6" fill="none" stroke="#000" stroke-width="2.6" stroke-linecap="round" stroke-linejoin="round"/>
<polygon points="245.1,238.7 252.3,235.7 292.2,227.3 289.5,269.3 242.4,280.7" fill="#fff"/>
<polyline points="251.5,247.7 252.3,235.7 264.2,233.2 264.3,231.7 268.1,234.8 268.7,230.8 292.2,227.3" fill="none" stroke="#000" stroke-width="2.6" stroke-linecap="round" stroke-linejoin="round"/>
<polyline points="292.2,227.3 289.5,269.3" fill="none" stroke="#000" stroke-width="2.6" stroke-linecap="round" stroke-linejoin="round"/>
<polygon points="133.4,163.2 182.3,196.8 180.6,223.8 131.6,190.2" fill="#fff"/>
<polyline points="132.5,177.0 140.6,182.6 148.8,188.2 156.9,193.8 165.1,199.4 173.3,205.0 181.4,210.6" fill="none" stroke="#8a8a8a" stroke-width="3.0" stroke-linecap="butt" stroke-linejoin="round"/>
<polyline points="131.9,185.2 140.1,190.8 148.3,196.4 156.4,202.0 164.6,207.6 172.7,213.2 180.9,218.8" fill="none" stroke="#8a8a8a" stroke-width="3.0" stroke-linecap="butt" stroke-linejoin="round"/>
<polyline points="132.5,177.0 131.9,185.2" fill="none" stroke="#8a8a8a" stroke-width="3.0" stroke-linecap="butt" stroke-linejoin="round"/>
<circle cx="141.4" cy="187.3" r="1.7" fill="#000"/>
<polyline points="133.4,163.2 131.8,187.2" fill="none" stroke="#000" stroke-width="2.6" stroke-linecap="round" stroke-linejoin="round"/>
<polygon points="182.3,196.8 225.1,226.1 223.4,253.1 180.6,223.8" fill="#fff"/>
<polyline points="181.4,210.6 188.6,215.4 195.7,220.3 202.8,225.2 210.0,230.1 217.1,235.0 224.2,239.9" fill="none" stroke="#8a8a8a" stroke-width="3.0" stroke-linecap="butt" stroke-linejoin="round"/>
<polyline points="180.9,218.8 188.0,223.6 195.2,228.5 202.3,233.4 209.4,238.3 216.6,243.2 223.7,248.1" fill="none" stroke="#8a8a8a" stroke-width="3.0" stroke-linecap="butt" stroke-linejoin="round"/>
<polyline points="181.4,210.6 180.9,218.8" fill="none" stroke="#8a8a8a" stroke-width="3.0" stroke-linecap="butt" stroke-linejoin="round"/>
<circle cx="190.3" cy="220.8" r="1.7" fill="#000"/>
<polyline points="185.8,229.4 185.1,240.4" fill="none" stroke="#000" stroke-width="2.4" stroke-linecap="round" stroke-linejoin="round"/>
<circle cx="191.4" cy="241.6" r="1.9" fill="#000"/>
<polyline points="182.3,196.8 179.6,238.8" fill="none" stroke="#000" stroke-width="2.6" stroke-linecap="round" stroke-linejoin="round"/>
<polygon points="225.1,226.1 286.3,268.0 284.6,295.0 223.4,253.1" fill="#fff"/>
<polyline points="224.2,239.9 234.4,246.9 244.6,253.9 254.8,260.8 265.0,267.8 275.2,274.8 285.4,281.8" fill="none" stroke="#8a8a8a" stroke-width="3.0" stroke-linecap="butt" stroke-linejoin="round"/>
<polyline points="223.7,248.1 233.9,255.1 244.1,262.1 254.3,269.0 264.5,276.0 274.7,283.0 284.9,290.0" fill="none" stroke="#8a8a8a" stroke-width="3.0" stroke-linecap="butt" stroke-linejoin="round"/>
<polyline points="224.2,239.9 223.7,248.1" fill="none" stroke="#8a8a8a" stroke-width="3.0" stroke-linecap="butt" stroke-linejoin="round"/>
<circle cx="233.2" cy="250.2" r="1.7" fill="#000"/>
<polyline points="228.6,258.8 227.9,269.8" fill="none" stroke="#000" stroke-width="2.4" stroke-linecap="round" stroke-linejoin="round"/>
<circle cx="234.2" cy="271.0" r="1.9" fill="#000"/>
<polyline points="225.1,226.1 222.4,268.1" fill="none" stroke="#000" stroke-width="2.6" stroke-linecap="round" stroke-linejoin="round"/>
<polygon points="135.7,216.8 142.7,213.6 181.8,204.8 179.1,246.8 132.9,258.8" fill="#fff"/>
<polyline points="141.9,225.6 142.7,213.6 154.4,211.0 154.5,209.5 158.2,212.6 158.8,208.6 181.8,204.8" fill="none" stroke="#000" stroke-width="2.6" stroke-linecap="round" stroke-linejoin="round"/>
<polyline points="181.8,204.8 179.1,246.8" fill="none" stroke="#000" stroke-width="2.6" stroke-linecap="round" stroke-linejoin="round"/>
<polygon points="177.8,245.7 184.9,242.6 224.6,234.1 221.9,276.1 175.1,287.7" fill="#fff"/>
<polyline points="184.2,254.6 184.9,242.6 196.8,240.0 196.9,238.5 200.6,241.7 201.3,237.7 224.6,234.1" fill="none" stroke="#000" stroke-width="2.6" stroke-linecap="round" stroke-linejoin="round"/>
<polyline points="224.6,234.1 221.9,276.1" fill="none" stroke="#000" stroke-width="2.6" stroke-linecap="round" stroke-linejoin="round"/>
<polyline points="133.3,163.8 148.6,174.3 163.9,184.8 179.2,195.3 194.5,205.7 209.8,216.2 225.1,226.7 240.4,237.2 255.7,247.6 271.0,258.1 286.3,268.6" fill="none" stroke="#000" stroke-width="6.0" stroke-linecap="butt" stroke-linejoin="round"/>
<polyline points="137.9,167.4 152.7,177.5 167.6,187.7 182.4,197.9 197.2,208.0 212.1,218.2 226.9,228.4 241.8,238.5 256.6,248.7 271.4,258.8 286.3,269.0" fill="none" stroke="#999" stroke-width="0.7" stroke-linecap="butt" stroke-linejoin="round"/>
<rect x="142.7" y="173.3" width="2.8" height="3" fill="#000"/>
<rect x="153.6" y="180.8" width="2.8" height="3" fill="#000"/>
<rect x="164.5" y="188.3" width="2.8" height="3" fill="#000"/>
<rect x="175.4" y="195.8" width="2.8" height="3" fill="#000"/>
<rect x="186.4" y="203.2" width="2.8" height="3" fill="#000"/>
<rect x="197.3" y="210.7" width="2.8" height="3" fill="#000"/>
<rect x="208.2" y="218.2" width="2.8" height="3" fill="#000"/>
<rect x="219.1" y="225.7" width="2.8" height="3" fill="#000"/>
<rect x="230.1" y="233.2" width="2.8" height="3" fill="#000"/>
<rect x="241.0" y="240.7" width="2.8" height="3" fill="#000"/>
<rect x="251.9" y="248.2" width="2.8" height="3" fill="#000"/>
<rect x="262.8" y="255.6" width="2.8" height="3" fill="#000"/>
<rect x="273.8" y="263.1" width="2.8" height="3" fill="#000"/>
<polyline points="179.3,142.4 194.8,153.0 210.4,163.6 225.9,174.2 241.4,184.9 257.0,195.5 272.5,206.1 288.0,216.7 303.6,227.4 319.1,238.0 334.6,248.6" fill="none" stroke="#000" stroke-width="6.0" stroke-linecap="butt" stroke-linejoin="round"/>
<polyline points="183.9,146.0 199.0,156.3 214.1,166.6 229.1,176.9 244.2,187.2 259.3,197.5 274.3,207.8 289.4,218.1 304.5,228.4 319.5,238.7 334.6,249.0" fill="none" stroke="#999" stroke-width="0.7" stroke-linecap="butt" stroke-linejoin="round"/>
<rect x="188.8" y="152.0" width="2.8" height="3" fill="#000"/>
<rect x="199.9" y="159.5" width="2.8" height="3" fill="#000"/>
<rect x="211.0" y="167.1" width="2.8" height="3" fill="#000"/>
<rect x="222.1" y="174.7" width="2.8" height="3" fill="#000"/>
<rect x="233.2" y="182.3" width="2.8" height="3" fill="#000"/>
<rect x="244.3" y="189.9" width="2.8" height="3" fill="#000"/>
<rect x="255.4" y="197.5" width="2.8" height="3" fill="#000"/>
<rect x="266.5" y="205.1" width="2.8" height="3" fill="#000"/>
<rect x="277.6" y="212.7" width="2.8" height="3" fill="#000"/>
<rect x="288.7" y="220.2" width="2.8" height="3" fill="#000"/>
<rect x="299.7" y="227.8" width="2.8" height="3" fill="#000"/>
<rect x="310.8" y="235.4" width="2.8" height="3" fill="#000"/>
<rect x="321.9" y="243.0" width="2.8" height="3" fill="#000"/>
<polygon points="87.6,186.0 229.0,284.0 238.0,291.0 236.8,341.5 233.5,329.5 83.7,227.5" stroke="none" stroke-width="0" fill="#fff" />
<line x1="87.4" y1="184.2" x2="83.7" y2="228.0" stroke="#000" stroke-width="2.6" />
<line x1="83.7" y1="227.5" x2="233.5" y2="329.5" stroke="#000" stroke-width="2.6" />
<circle cx="86.3" cy="215.5" r="1.8" fill="#000"/>
<polygon points="114.5,243.0 119.5,246.5 119.5,250.0 114.5,247.0" stroke="#000" stroke-width="1.5" fill="none" />
<line x1="87.8" y1="186.6" x2="229.0" y2="284.8" stroke="#000" stroke-width="5.4" />
<line x1="93.0" y1="190.6" x2="225.0" y2="282.4" stroke="#777" stroke-width="0.8" />
<line x1="229.0" y1="284.5" x2="239.0" y2="291.5" stroke="#8a8a8a" stroke-width="3.6" />
<line x1="227.0" y1="325.0" x2="235.0" y2="331.0" stroke="#8a8a8a" stroke-width="2.5" />
<polygon points="238.2,284.0 386.0,219.0 382.4,274.2 236.8,341.5" stroke="none" stroke-width="0" fill="#fff" />
<line x1="238.2" y1="285.0" x2="236.8" y2="341.5" stroke="#000" stroke-width="2.6" />
<line x1="241.3" y1="292.0" x2="239.8" y2="340.2" stroke="#000" stroke-width="1.6" />
<line x1="236.8" y1="341.8" x2="382.6" y2="274.4" stroke="#000" stroke-width="2.6" />
<line x1="385.8" y1="218.8" x2="382.4" y2="274.6" stroke="#000" stroke-width="2.6" />
<line x1="241.1" y1="295.8" x2="387.0" y2="228.6" stroke="#8a8a8a" stroke-width="1.8" />
<polygon points="238.6,271.9 387.0,202.9 389.0,219.4 238.6,284.9" stroke="none" stroke-width="0" fill="#fff" />
<polygon points="238.6,272.4 387.0,204.4 387.0,207.3 238.6,274.9" stroke="none" stroke-width="0" fill="#000" />
<polygon points="238.6,276.8 387.0,209.4 387.0,213.3 238.6,280.4" stroke="none" stroke-width="0" fill="#000" />
<polygon points="238.6,282.4 387.0,215.4 387.0,218.6 238.6,285.0" stroke="none" stroke-width="0" fill="#000" />
<line x1="238.3" y1="273.3" x2="238.6" y2="285.5" stroke="#000" stroke-width="2.4" />
<polyline points="383.5,205.8 389.0,210.6 388.5,218.0 384.5,219.8" stroke="#000" stroke-width="2.4" fill="none" stroke-linejoin="round"/>
<polygon points="265.2,295.8 284.2,287.4 283.8,300.0 264.7,308.3" stroke="#000" stroke-width="2.7" fill="none" stroke-linejoin="round"/>
<polygon points="340.3,261.3 360.8,252.4 360.2,265.2 339.8,274.0" stroke="#000" stroke-width="2.7" fill="none" stroke-linejoin="round"/>
</g>
<g transform="translate(480,429)">
<line x1="126.5" y1="210.5" x2="224.0" y2="166.0" stroke="#8a8a8a" stroke-width="2.6" /><line x1="224.0" y1="166.0" x2="332.0" y2="239.5" stroke="#8a8a8a" stroke-width="2.6" />
<line x1="226.6" y1="121.0" x2="224.5" y2="166.0" stroke="#000" stroke-width="2.5" />
<line x1="225.5" y1="120.6" x2="363.0" y2="216.6" stroke="#000" stroke-width="2.7" />
<rect x="234.4" y="128.6" width="3" height="3.2" fill="#000"/>
<rect x="245.0" y="135.9" width="3" height="3.2" fill="#000"/>
<rect x="255.6" y="143.3" width="3" height="3.2" fill="#000"/>
<rect x="266.2" y="150.6" width="3" height="3.2" fill="#000"/>
<rect x="276.8" y="157.9" width="3" height="3.2" fill="#000"/>
<rect x="287.4" y="165.2" width="3" height="3.2" fill="#000"/>
<rect x="298.0" y="172.6" width="3" height="3.2" fill="#000"/>
<rect x="308.6" y="179.9" width="3" height="3.2" fill="#000"/>
<rect x="319.2" y="187.2" width="3" height="3.2" fill="#000"/>
<rect x="329.8" y="194.5" width="3" height="3.2" fill="#000"/>
<rect x="340.4" y="201.9" width="3" height="3.2" fill="#000"/>
<rect x="351.0" y="209.2" width="3" height="3.2" fill="#000"/>
<line x1="87.4" y1="186.6" x2="225.5" y2="121.8" stroke="#000" stroke-width="6.0" />
<line x1="90.0" y1="185.6" x2="222.5" y2="123.4" stroke="#aaa" stroke-width="0.8" />
<line x1="123.0" y1="172.5" x2="136.0" y2="166.4" stroke="#000" stroke-width="3.0" />
<line x1="122.4" y1="167.2" x2="121.6" y2="174.4" stroke="#fff" stroke-width="1.1" />
<line x1="137.4" y1="160.1" x2="136.6" y2="167.3" stroke="#fff" stroke-width="1.1" />
<line x1="182.5" y1="144.6" x2="194.5" y2="138.9" stroke="#000" stroke-width="3.0" />
<line x1="181.9" y1="139.2" x2="181.1" y2="146.4" stroke="#fff" stroke-width="1.1" />
<line x1="195.9" y1="132.6" x2="195.1" y2="139.8" stroke="#fff" stroke-width="1.1" />
<line x1="143.4" y1="213.5" x2="150.6" y2="210.1" stroke="#000" stroke-width="3.2" stroke-linecap="round"/>
<line x1="160.9" y1="205.3" x2="168.1" y2="201.8" stroke="#000" stroke-width="3.2" stroke-linecap="round"/>
<line x1="178.4" y1="197.0" x2="185.6" y2="193.6" stroke="#000" stroke-width="3.2" stroke-linecap="round"/>
<line x1="195.9" y1="188.8" x2="203.1" y2="185.3" stroke="#000" stroke-width="3.2" stroke-linecap="round"/>
<line x1="209.1" y1="182.6" x2="219.9" y2="177.4" stroke="#000" stroke-width="3.2" stroke-linecap="round"/>
<line x1="154.2" y1="221.0" x2="161.4" y2="217.6" stroke="#000" stroke-width="3.2" stroke-linecap="round"/>
<line x1="171.7" y1="212.8" x2="178.9" y2="209.3" stroke="#000" stroke-width="3.2" stroke-linecap="round"/>
<line x1="189.2" y1="204.5" x2="196.4" y2="201.1" stroke="#000" stroke-width="3.2" stroke-linecap="round"/>
<line x1="206.7" y1="196.3" x2="213.9" y2="192.8" stroke="#000" stroke-width="3.2" stroke-linecap="round"/>
<line x1="219.9" y1="190.1" x2="230.7" y2="184.9" stroke="#000" stroke-width="3.2" stroke-linecap="round"/>
<line x1="165.0" y1="228.5" x2="172.2" y2="225.1" stroke="#000" stroke-width="3.2" stroke-linecap="round"/>
<line x1="182.5" y1="220.3" x2="189.7" y2="216.8" stroke="#000" stroke-width="3.2" stroke-linecap="round"/>
<line x1="200.0" y1="212.0" x2="207.2" y2="208.6" stroke="#000" stroke-width="3.2" stroke-linecap="round"/>
<line x1="217.5" y1="203.8" x2="224.7" y2="200.3" stroke="#000" stroke-width="3.2" stroke-linecap="round"/>
<line x1="230.7" y1="197.6" x2="241.5" y2="192.4" stroke="#000" stroke-width="3.2" stroke-linecap="round"/>
<line x1="175.8" y1="236.0" x2="183.0" y2="232.6" stroke="#000" stroke-width="3.2" stroke-linecap="round"/>
<line x1="193.3" y1="227.8" x2="200.5" y2="224.3" stroke="#000" stroke-width="3.2" stroke-linecap="round"/>
<line x1="210.8" y1="219.5" x2="218.0" y2="216.1" stroke="#000" stroke-width="3.2" stroke-linecap="round"/>
<line x1="228.3" y1="211.3" x2="235.5" y2="207.8" stroke="#000" stroke-width="3.2" stroke-linecap="round"/>
<line x1="241.5" y1="205.1" x2="252.3" y2="199.9" stroke="#000" stroke-width="3.2" stroke-linecap="round"/>
<line x1="186.6" y1="243.5" x2="193.8" y2="240.1" stroke="#000" stroke-width="3.2" stroke-linecap="round"/>
<line x1="204.1" y1="235.3" x2="211.3" y2="231.8" stroke="#000" stroke-width="3.2" stroke-linecap="round"/>
<line x1="221.6" y1="227.0" x2="228.8" y2="223.6" stroke="#000" stroke-width="3.2" stroke-linecap="round"/>
<line x1="239.1" y1="218.8" x2="246.3" y2="215.3" stroke="#000" stroke-width="3.2" stroke-linecap="round"/>
<line x1="252.3" y1="212.6" x2="263.1" y2="207.4" stroke="#000" stroke-width="3.2" stroke-linecap="round"/>
<line x1="197.4" y1="251.0" x2="204.6" y2="247.6" stroke="#000" stroke-width="3.2" stroke-linecap="round"/>
<line x1="214.9" y1="242.8" x2="222.1" y2="239.3" stroke="#000" stroke-width="3.2" stroke-linecap="round"/>
<line x1="232.4" y1="234.5" x2="239.6" y2="231.1" stroke="#000" stroke-width="3.2" stroke-linecap="round"/>
<line x1="249.9" y1="226.3" x2="257.1" y2="222.8" stroke="#000" stroke-width="3.2" stroke-linecap="round"/>
<line x1="263.1" y1="220.1" x2="273.9" y2="214.9" stroke="#000" stroke-width="3.2" stroke-linecap="round"/>
<line x1="208.2" y1="258.5" x2="215.4" y2="255.1" stroke="#000" stroke-width="3.2" stroke-linecap="round"/>
<line x1="225.7" y1="250.3" x2="232.9" y2="246.8" stroke="#000" stroke-width="3.2" stroke-linecap="round"/>
<line x1="243.2" y1="242.0" x2="250.4" y2="238.6" stroke="#000" stroke-width="3.2" stroke-linecap="round"/>
<line x1="260.7" y1="233.8" x2="267.9" y2="230.3" stroke="#000" stroke-width="3.2" stroke-linecap="round"/>
<line x1="273.9" y1="227.6" x2="284.7" y2="222.4" stroke="#000" stroke-width="3.2" stroke-linecap="round"/>
<line x1="219.0" y1="266.0" x2="226.2" y2="262.6" stroke="#000" stroke-width="3.2" stroke-linecap="round"/>
<line x1="236.5" y1="257.8" x2="243.7" y2="254.3" stroke="#000" stroke-width="3.2" stroke-linecap="round"/>
<line x1="254.0" y1="249.5" x2="261.2" y2="246.1" stroke="#000" stroke-width="3.2" stroke-linecap="round"/>
<line x1="271.5" y1="241.3" x2="278.7" y2="237.8" stroke="#000" stroke-width="3.2" stroke-linecap="round"/>
<line x1="284.7" y1="235.1" x2="295.5" y2="229.9" stroke="#000" stroke-width="3.2" stroke-linecap="round"/>
<line x1="229.8" y1="273.5" x2="237.0" y2="270.1" stroke="#000" stroke-width="3.2" stroke-linecap="round"/>
<line x1="247.3" y1="265.3" x2="254.5" y2="261.8" stroke="#000" stroke-width="3.2" stroke-linecap="round"/>
<line x1="264.8" y1="257.0" x2="272.0" y2="253.6" stroke="#000" stroke-width="3.2" stroke-linecap="round"/>
<line x1="282.3" y1="248.8" x2="289.5" y2="245.3" stroke="#000" stroke-width="3.2" stroke-linecap="round"/>
<line x1="295.5" y1="242.6" x2="306.3" y2="237.4" stroke="#000" stroke-width="3.2" stroke-linecap="round"/>
<polyline points="226.0,134.4 230.0,137.1 233.9,139.8 237.9,142.5 241.8,145.1 245.7,147.8 249.7,150.5" fill="none" stroke="#8c8c8c" stroke-width="6.0" stroke-linecap="butt" stroke-linejoin="round"/>
<polyline points="256.0,154.8 262.0,159.0 268.1,163.1 274.1,167.2 280.2,171.4 286.2,175.5 292.3,179.6" fill="none" stroke="#8c8c8c" stroke-width="6.0" stroke-linecap="butt" stroke-linejoin="round"/>
<polyline points="298.6,183.9 304.6,188.0 310.7,192.2 316.7,196.3 322.8,200.4 328.8,204.6 334.8,208.7" fill="none" stroke="#8c8c8c" stroke-width="6.0" stroke-linecap="butt" stroke-linejoin="round"/>
<polyline points="341.2,213.0 346.1,216.4 351.1,219.8 356.1,223.2 361.1,226.6 366.1,230.1 371.1,233.5" fill="none" stroke="#8c8c8c" stroke-width="6.0" stroke-linecap="butt" stroke-linejoin="round"/>
<polygon points="220.6,154.7 255.4,138.8 252.3,186.8 217.5,202.7" fill="#fff"/>
<polyline points="217.5,202.7 252.3,186.8" fill="none" stroke="#000" stroke-width="2.2" stroke-linecap="round" stroke-linejoin="round"/>
<polyline points="220.6,154.7 255.4,138.8" fill="none" stroke="#555" stroke-width="2.3" stroke-linecap="round" stroke-linejoin="round"/>
<polyline points="220.3,159.2 255.1,143.3" fill="none" stroke="#000" stroke-width="2.5" stroke-linecap="round" stroke-linejoin="round"/>
<polyline points="255.4,138.8 252.3,186.8" fill="none" stroke="#000" stroke-width="2.6" stroke-linecap="round" stroke-linejoin="round"/>
<polyline points="255.4,138.8 255.1,143.3" fill="none" stroke="#000" stroke-width="2.4" stroke-linecap="round" stroke-linejoin="round"/>
<polygon points="262.7,183.4 298.0,167.8 294.9,215.8 259.6,231.4" fill="#fff"/>
<polyline points="259.6,231.4 294.9,215.8" fill="none" stroke="#000" stroke-width="2.2" stroke-linecap="round" stroke-linejoin="round"/>
<polyline points="262.7,183.4 298.0,167.8" fill="none" stroke="#555" stroke-width="2.3" stroke-linecap="round" stroke-linejoin="round"/>
<polyline points="262.4,187.9 297.7,172.3" fill="none" stroke="#000" stroke-width="2.5" stroke-linecap="round" stroke-linejoin="round"/>
<polyline points="298.0,167.8 294.9,215.8" fill="none" stroke="#000" stroke-width="2.6" stroke-linecap="round" stroke-linejoin="round"/>
<polyline points="298.0,167.8 297.7,172.3" fill="none" stroke="#000" stroke-width="2.4" stroke-linecap="round" stroke-linejoin="round"/>
<polygon points="304.8,212.2 340.6,196.9 337.4,244.9 301.7,260.2" fill="#fff"/>
<polyline points="301.7,260.2 337.4,244.9" fill="none" stroke="#000" stroke-width="2.2" stroke-linecap="round" stroke-linejoin="round"/>
<polyline points="304.8,212.2 340.6,196.9" fill="none" stroke="#555" stroke-width="2.3" stroke-linecap="round" stroke-linejoin="round"/>
<polyline points="304.5,216.7 340.3,201.4" fill="none" stroke="#000" stroke-width="2.5" stroke-linecap="round" stroke-linejoin="round"/>
<polyline points="340.6,196.9 337.4,244.9" fill="none" stroke="#000" stroke-width="2.6" stroke-linecap="round" stroke-linejoin="round"/>
<polyline points="340.6,196.9 340.3,201.4" fill="none" stroke="#000" stroke-width="2.4" stroke-linecap="round" stroke-linejoin="round"/>
<polygon points="190.8,136.4 242.3,171.6 240.5,198.6 189.1,163.4" fill="#fff"/>
<polyline points="189.9,150.2 198.5,156.1 207.1,161.9 215.7,167.8 224.2,173.7 232.8,179.5 241.4,185.4" fill="none" stroke="#8a8a8a" stroke-width="3.0" stroke-linecap="butt" stroke-linejoin="round"/>
<polyline points="189.4,158.4 198.0,164.3 206.5,170.1 215.1,176.0 223.7,181.9 232.3,187.7 240.9,193.6" fill="none" stroke="#8a8a8a" stroke-width="3.0" stroke-linecap="butt" stroke-linejoin="round"/>
<polyline points="189.9,150.2 189.4,158.4" fill="none" stroke="#8a8a8a" stroke-width="3.0" stroke-linecap="butt" stroke-linejoin="round"/>
<circle cx="199.0" cy="160.6" r="1.7" fill="#000"/>
<polyline points="190.8,136.4 189.3,160.4" fill="none" stroke="#000" stroke-width="2.6" stroke-linecap="round" stroke-linejoin="round"/>
<polygon points="242.3,171.6 284.4,200.4 282.6,227.4 240.5,198.6" fill="#fff"/>
<polyline points="241.4,185.4 248.4,190.2 255.4,195.0 262.4,199.8 269.4,204.6 276.5,209.4 283.5,214.2" fill="none" stroke="#8a8a8a" stroke-width="3.0" stroke-linecap="butt" stroke-linejoin="round"/>
<polyline points="240.9,193.6 247.9,198.4 254.9,203.2 261.9,208.0 268.9,212.8 275.9,217.6 282.9,222.4" fill="none" stroke="#8a8a8a" stroke-width="3.0" stroke-linecap="butt" stroke-linejoin="round"/>
<polyline points="241.4,185.4 240.9,193.6" fill="none" stroke="#8a8a8a" stroke-width="3.0" stroke-linecap="butt" stroke-linejoin="round"/>
<circle cx="250.5" cy="195.8" r="1.7" fill="#000"/>
<polyline points="245.9,204.3 245.1,215.3" fill="none" stroke="#000" stroke-width="2.4" stroke-linecap="round" stroke-linejoin="round"/>
<circle cx="251.6" cy="216.6" r="1.9" fill="#000"/>
<polyline points="242.3,171.6 239.6,213.6" fill="none" stroke="#000" stroke-width="2.6" stroke-linecap="round" stroke-linejoin="round"/>
<polygon points="284.4,200.4 326.5,229.1 324.7,256.1 282.6,227.4" fill="#fff"/>
<polyline points="283.5,214.2 290.5,219.0 297.5,223.8 304.5,228.6 311.5,233.3 318.6,238.1 325.6,242.9" fill="none" stroke="#8a8a8a" stroke-width="3.0" stroke-linecap="butt" stroke-linejoin="round"/>
<polyline points="282.9,222.4 290.0,227.2 297.0,232.0 304.0,236.8 311.0,241.5 318.0,246.3 325.0,251.1" fill="none" stroke="#8a8a8a" stroke-width="3.0" stroke-linecap="butt" stroke-linejoin="round"/>
<polyline points="283.5,214.2 282.9,222.4" fill="none" stroke="#8a8a8a" stroke-width="3.0" stroke-linecap="butt" stroke-linejoin="round"/>
<circle cx="292.6" cy="224.6" r="1.7" fill="#000"/>
<polyline points="288.0,233.1 287.2,244.1" fill="none" stroke="#000" stroke-width="2.4" stroke-linecap="round" stroke-linejoin="round"/>
<circle cx="293.7" cy="245.4" r="1.9" fill="#000"/>
<polyline points="284.4,200.4 281.6,242.4" fill="none" stroke="#000" stroke-width="2.6" stroke-linecap="round" stroke-linejoin="round"/>
<polygon points="326.5,229.1 346.8,243.0 345.0,270.0 324.7,256.1" fill="#fff"/>
<polyline points="325.6,242.9 329.0,245.3 332.3,247.6 335.7,249.9 339.1,252.2 342.5,254.5 345.9,256.8" fill="none" stroke="#8a8a8a" stroke-width="3.0" stroke-linecap="butt" stroke-linejoin="round"/>
<polyline points="325.0,251.1 328.4,253.5 331.8,255.8 335.2,258.1 338.6,260.4 341.9,262.7 345.3,265.0" fill="none" stroke="#8a8a8a" stroke-width="3.0" stroke-linecap="butt" stroke-linejoin="round"/>
<polyline points="325.6,242.9 325.0,251.1" fill="none" stroke="#8a8a8a" stroke-width="3.0" stroke-linecap="butt" stroke-linejoin="round"/>
<circle cx="334.7" cy="253.3" r="1.7" fill="#000"/>
<polyline points="326.5,229.1 323.7,271.1" fill="none" stroke="#000" stroke-width="2.6" stroke-linecap="round" stroke-linejoin="round"/>
<polygon points="207.3,185.3 242.4,169.6 239.3,217.6 204.2,233.3" fill="#fff"/>
<polyline points="204.2,233.3 239.3,217.6" fill="none" stroke="#000" stroke-width="2.2" stroke-linecap="round" stroke-linejoin="round"/>
<polyline points="207.3,185.3 242.4,169.6" fill="none" stroke="#555" stroke-width="2.3" stroke-linecap="round" stroke-linejoin="round"/>
<polyline points="207.1,189.8 242.1,174.1" fill="none" stroke="#000" stroke-width="2.5" stroke-linecap="round" stroke-linejoin="round"/>
<polyline points="242.4,169.6 239.3,217.6" fill="none" stroke="#000" stroke-width="2.6" stroke-linecap="round" stroke-linejoin="round"/>
<polyline points="242.4,169.6 242.1,174.1" fill="none" stroke="#000" stroke-width="2.4" stroke-linecap="round" stroke-linejoin="round"/>
<polygon points="249.0,213.8 284.5,198.4 281.4,246.4 245.8,261.8" fill="#fff"/>
<polyline points="245.8,261.8 281.4,246.4" fill="none" stroke="#000" stroke-width="2.2" stroke-linecap="round" stroke-linejoin="round"/>
<polyline points="249.0,213.8 284.5,198.4" fill="none" stroke="#555" stroke-width="2.3" stroke-linecap="round" stroke-linejoin="round"/>
<polyline points="248.7,218.3 284.2,202.9" fill="none" stroke="#000" stroke-width="2.5" stroke-linecap="round" stroke-linejoin="round"/>
<polyline points="284.5,198.4 281.4,246.4" fill="none" stroke="#000" stroke-width="2.6" stroke-linecap="round" stroke-linejoin="round"/>
<polyline points="284.5,198.4 284.2,202.9" fill="none" stroke="#000" stroke-width="2.4" stroke-linecap="round" stroke-linejoin="round"/>
<polygon points="290.6,242.3 326.6,227.1 323.5,275.1 287.5,290.3" fill="#fff"/>
<polyline points="287.5,290.3 323.5,275.1" fill="none" stroke="#000" stroke-width="2.2" stroke-linecap="round" stroke-linejoin="round"/>
<polyline points="290.6,242.3 326.6,227.1" fill="none" stroke="#555" stroke-width="2.3" stroke-linecap="round" stroke-linejoin="round"/>
<polyline points="290.3,246.8 326.3,231.6" fill="none" stroke="#000" stroke-width="2.5" stroke-linecap="round" stroke-linejoin="round"/>
<polyline points="326.6,227.1 323.5,275.1" fill="none" stroke="#000" stroke-width="2.6" stroke-linecap="round" stroke-linejoin="round"/>
<polyline points="326.6,227.1 326.3,231.6" fill="none" stroke="#000" stroke-width="2.4" stroke-linecap="round" stroke-linejoin="round"/>
<polygon points="156.4,152.5 185.6,172.5 183.9,199.5 154.6,179.5" fill="#fff"/>
<polyline points="155.5,166.3 160.3,169.6 165.2,173.0 170.1,176.3 175.0,179.7 179.9,183.0 184.7,186.3" fill="none" stroke="#8a8a8a" stroke-width="3.0" stroke-linecap="butt" stroke-linejoin="round"/>
<polyline points="154.9,174.5 159.8,177.8 164.7,181.2 169.6,184.5 174.4,187.9 179.3,191.2 184.2,194.5" fill="none" stroke="#8a8a8a" stroke-width="3.0" stroke-linecap="butt" stroke-linejoin="round"/>
<polyline points="155.5,166.3 154.9,174.5" fill="none" stroke="#8a8a8a" stroke-width="3.0" stroke-linecap="butt" stroke-linejoin="round"/>
<circle cx="164.4" cy="176.6" r="1.7" fill="#000"/>
<polyline points="156.4,152.5 154.8,176.5" fill="none" stroke="#000" stroke-width="2.6" stroke-linecap="round" stroke-linejoin="round"/>
<polygon points="185.6,172.5 227.3,201.0 225.5,228.0 183.9,199.5" fill="#fff"/>
<polyline points="184.7,186.3 191.7,191.1 198.6,195.8 205.6,200.6 212.5,205.3 219.4,210.1 226.4,214.8" fill="none" stroke="#8a8a8a" stroke-width="3.0" stroke-linecap="butt" stroke-linejoin="round"/>
<polyline points="184.2,194.5 191.1,199.3 198.1,204.0 205.0,208.8 212.0,213.5 218.9,218.3 225.8,223.0" fill="none" stroke="#8a8a8a" stroke-width="3.0" stroke-linecap="butt" stroke-linejoin="round"/>
<polyline points="184.7,186.3 184.2,194.5" fill="none" stroke="#8a8a8a" stroke-width="3.0" stroke-linecap="butt" stroke-linejoin="round"/>
<circle cx="193.7" cy="196.7" r="1.7" fill="#000"/>
<polyline points="189.1,205.2 188.4,216.2" fill="none" stroke="#000" stroke-width="2.4" stroke-linecap="round" stroke-linejoin="round"/>
<circle cx="194.8" cy="217.5" r="1.9" fill="#000"/>
<polyline points="185.6,172.5 182.9,214.5" fill="none" stroke="#000" stroke-width="2.6" stroke-linecap="round" stroke-linejoin="round"/>
<polygon points="227.3,201.0 268.9,229.5 267.1,256.5 225.5,228.0" fill="#fff"/>
<polyline points="226.4,214.8 233.3,219.6 240.2,224.3 247.2,229.1 254.1,233.8 261.0,238.6 268.0,243.3" fill="none" stroke="#8a8a8a" stroke-width="3.0" stroke-linecap="butt" stroke-linejoin="round"/>
<polyline points="225.8,223.0 232.8,227.8 239.7,232.5 246.6,237.3 253.6,242.0 260.5,246.8 267.4,251.5" fill="none" stroke="#8a8a8a" stroke-width="3.0" stroke-linecap="butt" stroke-linejoin="round"/>
<polyline points="226.4,214.8 225.8,223.0" fill="none" stroke="#8a8a8a" stroke-width="3.0" stroke-linecap="butt" stroke-linejoin="round"/>
<circle cx="235.4" cy="225.2" r="1.7" fill="#000"/>
<polyline points="230.8,233.7 230.1,244.7" fill="none" stroke="#000" stroke-width="2.4" stroke-linecap="round" stroke-linejoin="round"/>
<circle cx="236.4" cy="245.9" r="1.9" fill="#000"/>
<polyline points="227.3,201.0 224.5,243.0" fill="none" stroke="#000" stroke-width="2.6" stroke-linecap="round" stroke-linejoin="round"/>
<polygon points="268.9,229.5 310.5,258.0 308.7,285.0 267.1,256.5" fill="#fff"/>
<polyline points="268.0,243.3 274.9,248.1 281.9,252.8 288.8,257.6 295.7,262.3 302.7,267.1 309.6,271.8" fill="none" stroke="#8a8a8a" stroke-width="3.0" stroke-linecap="butt" stroke-linejoin="round"/>
<polyline points="267.4,251.5 274.4,256.3 281.3,261.0 288.3,265.8 295.2,270.5 302.1,275.3 309.1,280.0" fill="none" stroke="#8a8a8a" stroke-width="3.0" stroke-linecap="butt" stroke-linejoin="round"/>
<polyline points="268.0,243.3 267.4,251.5" fill="none" stroke="#8a8a8a" stroke-width="3.0" stroke-linecap="butt" stroke-linejoin="round"/>
<circle cx="277.0" cy="253.6" r="1.7" fill="#000"/>
<polyline points="272.4,262.2 271.7,273.2" fill="none" stroke="#000" stroke-width="2.4" stroke-linecap="round" stroke-linejoin="round"/>
<circle cx="278.0" cy="274.4" r="1.9" fill="#000"/>
<polyline points="268.9,229.5 266.1,271.5" fill="none" stroke="#000" stroke-width="2.6" stroke-linecap="round" stroke-linejoin="round"/>
<polygon points="151.0,186.4 185.8,170.5 182.6,218.5 147.8,234.4" fill="#fff"/>
<polyline points="147.8,234.4 182.6,218.5" fill="none" stroke="#000" stroke-width="2.2" stroke-linecap="round" stroke-linejoin="round"/>
<polyline points="151.0,186.4 185.8,170.5" fill="none" stroke="#555" stroke-width="2.3" stroke-linecap="round" stroke-linejoin="round"/>
<polyline points="150.7,190.9 185.5,175.0" fill="none" stroke="#000" stroke-width="2.5" stroke-linecap="round" stroke-linejoin="round"/>
<polyline points="185.8,170.5 182.6,218.5" fill="none" stroke="#000" stroke-width="2.6" stroke-linecap="round" stroke-linejoin="round"/>
<polyline points="185.8,170.5 185.5,175.0" fill="none" stroke="#000" stroke-width="2.4" stroke-linecap="round" stroke-linejoin="round"/>
<polygon points="192.1,214.6 227.4,199.0 224.3,247.0 189.0,262.6" fill="#fff"/>
<polyline points="189.0,262.6 224.3,247.0" fill="none" stroke="#000" stroke-width="2.2" stroke-linecap="round" stroke-linejoin="round"/>
<polyline points="192.1,214.6 227.4,199.0" fill="none" stroke="#555" stroke-width="2.3" stroke-linecap="round" stroke-linejoin="round"/>
<polyline points="191.8,219.1 227.1,203.5" fill="none" stroke="#000" stroke-width="2.5" stroke-linecap="round" stroke-linejoin="round"/>
<polyline points="227.4,199.0 224.3,247.0" fill="none" stroke="#000" stroke-width="2.6" stroke-linecap="round" stroke-linejoin="round"/>
<polyline points="227.4,199.0 227.1,203.5" fill="none" stroke="#000" stroke-width="2.4" stroke-linecap="round" stroke-linejoin="round"/>
<polygon points="233.2,242.8 269.0,227.5 265.9,275.5 230.1,290.8" fill="#fff"/>
<polyline points="230.1,290.8 265.9,275.5" fill="none" stroke="#000" stroke-width="2.2" stroke-linecap="round" stroke-linejoin="round"/>
<polyline points="233.2,242.8 269.0,227.5" fill="none" stroke="#555" stroke-width="2.3" stroke-linecap="round" stroke-linejoin="round"/>
<polyline points="232.9,247.3 268.7,232.0" fill="none" stroke="#000" stroke-width="2.5" stroke-linecap="round" stroke-linejoin="round"/>
<polyline points="269.0,227.5 265.9,275.5" fill="none" stroke="#000" stroke-width="2.6" stroke-linecap="round" stroke-linejoin="round"/>
<polyline points="269.0,227.5 268.7,232.0" fill="none" stroke="#000" stroke-width="2.4" stroke-linecap="round" stroke-linejoin="round"/>
<polygon points="121.9,168.6 172.2,203.1 170.4,230.1 120.1,195.6" fill="#fff"/>
<polyline points="121.0,182.4 129.4,188.1 137.7,193.9 146.1,199.6 154.5,205.4 162.9,211.1 171.3,216.9" fill="none" stroke="#8a8a8a" stroke-width="3.0" stroke-linecap="butt" stroke-linejoin="round"/>
<polyline points="120.4,190.6 128.8,196.3 137.2,202.1 145.6,207.8 154.0,213.6 162.3,219.3 170.7,225.1" fill="none" stroke="#8a8a8a" stroke-width="3.0" stroke-linecap="butt" stroke-linejoin="round"/>
<polyline points="121.0,182.4 120.4,190.6" fill="none" stroke="#8a8a8a" stroke-width="3.0" stroke-linecap="butt" stroke-linejoin="round"/>
<circle cx="129.9" cy="192.7" r="1.7" fill="#000"/>
<polyline points="121.9,168.6 120.3,192.6" fill="none" stroke="#000" stroke-width="2.6" stroke-linecap="round" stroke-linejoin="round"/>
<polygon points="172.2,203.1 213.3,231.2 211.5,258.2 170.4,230.1" fill="#fff"/>
<polyline points="171.3,216.9 178.1,221.6 185.0,226.2 191.8,230.9 198.7,235.6 205.5,240.3 212.4,245.0" fill="none" stroke="#8a8a8a" stroke-width="3.0" stroke-linecap="butt" stroke-linejoin="round"/>
<polyline points="170.7,225.1 177.6,229.8 184.4,234.4 191.3,239.1 198.2,243.8 205.0,248.5 211.9,253.2" fill="none" stroke="#8a8a8a" stroke-width="3.0" stroke-linecap="butt" stroke-linejoin="round"/>
<polyline points="171.3,216.9 170.7,225.1" fill="none" stroke="#8a8a8a" stroke-width="3.0" stroke-linecap="butt" stroke-linejoin="round"/>
<circle cx="180.1" cy="227.1" r="1.7" fill="#000"/>
<polyline points="175.6,235.7 174.9,246.7" fill="none" stroke="#000" stroke-width="2.4" stroke-linecap="round" stroke-linejoin="round"/>
<circle cx="181.2" cy="247.9" r="1.9" fill="#000"/>
<polyline points="172.2,203.1 169.4,245.1" fill="none" stroke="#000" stroke-width="2.6" stroke-linecap="round" stroke-linejoin="round"/>
<polygon points="213.3,231.2 254.4,259.4 252.7,286.4 211.5,258.2" fill="#fff"/>
<polyline points="212.4,245.0 219.3,249.7 226.1,254.4 233.0,259.1 239.8,263.8 246.7,268.5 253.5,273.2" fill="none" stroke="#8a8a8a" stroke-width="3.0" stroke-linecap="butt" stroke-linejoin="round"/>
<polyline points="211.9,253.2 218.7,257.9 225.6,262.6 232.4,267.3 239.3,272.0 246.2,276.7 253.0,281.4" fill="none" stroke="#8a8a8a" stroke-width="3.0" stroke-linecap="butt" stroke-linejoin="round"/>
<polyline points="212.4,245.0 211.9,253.2" fill="none" stroke="#8a8a8a" stroke-width="3.0" stroke-linecap="butt" stroke-linejoin="round"/>
<circle cx="221.3" cy="255.3" r="1.7" fill="#000"/>
<polyline points="216.7,263.9 216.0,274.9" fill="none" stroke="#000" stroke-width="2.4" stroke-linecap="round" stroke-linejoin="round"/>
<circle cx="222.3" cy="276.1" r="1.9" fill="#000"/>
<polyline points="213.3,231.2 210.6,273.2" fill="none" stroke="#000" stroke-width="2.6" stroke-linecap="round" stroke-linejoin="round"/>
<polygon points="254.4,259.4 274.2,273.0 272.5,300.0 252.7,286.4" fill="#fff"/>
<polyline points="253.5,273.2 256.8,275.5 260.1,277.8 263.4,280.0 266.8,282.3 270.1,284.5 273.4,286.8" fill="none" stroke="#8a8a8a" stroke-width="3.0" stroke-linecap="butt" stroke-linejoin="round"/>
<polyline points="253.0,281.4 256.3,283.7 259.6,286.0 262.9,288.2 266.2,290.5 269.5,292.7 272.8,295.0" fill="none" stroke="#8a8a8a" stroke-width="3.0" stroke-linecap="butt" stroke-linejoin="round"/>
<polyline points="253.5,273.2 253.0,281.4" fill="none" stroke="#8a8a8a" stroke-width="3.0" stroke-linecap="butt" stroke-linejoin="round"/>
<circle cx="262.4" cy="283.5" r="1.7" fill="#000"/>
<polyline points="254.4,259.4 251.7,301.4" fill="none" stroke="#000" stroke-width="2.6" stroke-linecap="round" stroke-linejoin="round"/>
<polygon points="137.2,216.8 172.3,201.1 169.2,249.1 134.1,264.8" fill="#fff"/>
<polyline points="143.9,260.4 169.2,249.1" fill="none" stroke="#000" stroke-width="2.2" stroke-linecap="round" stroke-linejoin="round"/>
<polyline points="137.2,216.8 172.3,201.1" fill="none" stroke="#555" stroke-width="2.3" stroke-linecap="round" stroke-linejoin="round"/>
<polyline points="136.9,221.3 172.0,205.6" fill="none" stroke="#000" stroke-width="2.5" stroke-linecap="round" stroke-linejoin="round"/>
<polyline points="172.3,201.1 169.2,249.1" fill="none" stroke="#000" stroke-width="2.6" stroke-linecap="round" stroke-linejoin="round"/>
<polyline points="172.3,201.1 172.0,205.6" fill="none" stroke="#000" stroke-width="2.4" stroke-linecap="round" stroke-linejoin="round"/>
<polygon points="177.9,244.7 213.4,229.2 210.3,277.2 174.8,292.7" fill="#fff"/>
<polyline points="184.7,288.4 210.3,277.2" fill="none" stroke="#000" stroke-width="2.2" stroke-linecap="round" stroke-linejoin="round"/>
<polyline points="177.9,244.7 213.4,229.2" fill="none" stroke="#555" stroke-width="2.3" stroke-linecap="round" stroke-linejoin="round"/>
<polyline points="177.6,249.2 213.1,233.7" fill="none" stroke="#000" stroke-width="2.5" stroke-linecap="round" stroke-linejoin="round"/>
<polyline points="213.4,229.2 210.3,277.2" fill="none" stroke="#000" stroke-width="2.6" stroke-linecap="round" stroke-linejoin="round"/>
<polyline points="213.4,229.2 213.1,233.7" fill="none" stroke="#000" stroke-width="2.4" stroke-linecap="round" stroke-linejoin="round"/>
<polygon points="218.6,272.6 254.6,257.4 251.5,305.4 215.4,320.6" fill="#fff"/>
<polyline points="225.5,316.3 251.5,305.4" fill="none" stroke="#000" stroke-width="2.2" stroke-linecap="round" stroke-linejoin="round"/>
<polyline points="218.6,272.6 254.6,257.4" fill="none" stroke="#555" stroke-width="2.3" stroke-linecap="round" stroke-linejoin="round"/>
<polyline points="218.3,277.1 254.3,261.9" fill="none" stroke="#000" stroke-width="2.5" stroke-linecap="round" stroke-linejoin="round"/>
<polyline points="254.6,257.4 251.5,305.4" fill="none" stroke="#000" stroke-width="2.6" stroke-linecap="round" stroke-linejoin="round"/>
<polyline points="254.6,257.4 254.3,261.9" fill="none" stroke="#000" stroke-width="2.4" stroke-linecap="round" stroke-linejoin="round"/>
<polyline points="121.8,169.2 137.1,179.6 152.3,190.1 167.5,200.5 182.8,211.0 198.0,221.4 213.3,231.8 228.5,242.3 243.7,252.7 259.0,263.2 274.2,273.6" fill="none" stroke="#000" stroke-width="6.0" stroke-linecap="butt" stroke-linejoin="round"/>
<polyline points="126.4,172.7 141.2,182.9 155.9,193.0 170.7,203.1 185.5,213.2 200.3,223.4 215.1,233.5 229.8,243.6 244.6,253.7 259.4,263.9 274.2,274.0" fill="none" stroke="#999" stroke-width="0.7" stroke-linecap="butt" stroke-linejoin="round"/>
<rect x="131.1" y="178.7" width="2.8" height="3" fill="#000"/>
<rect x="142.0" y="186.1" width="2.8" height="3" fill="#000"/>
<rect x="152.9" y="193.6" width="2.8" height="3" fill="#000"/>
<rect x="163.8" y="201.0" width="2.8" height="3" fill="#000"/>
<rect x="174.7" y="208.5" width="2.8" height="3" fill="#000"/>
<rect x="185.5" y="215.9" width="2.8" height="3" fill="#000"/>
<rect x="196.4" y="223.4" width="2.8" height="3" fill="#000"/>
<rect x="207.3" y="230.9" width="2.8" height="3" fill="#000"/>
<rect x="218.2" y="238.3" width="2.8" height="3" fill="#000"/>
<rect x="229.1" y="245.8" width="2.8" height="3" fill="#000"/>
<rect x="240.0" y="253.2" width="2.8" height="3" fill="#000"/>
<rect x="250.8" y="260.7" width="2.8" height="3" fill="#000"/>
<rect x="261.7" y="268.1" width="2.8" height="3" fill="#000"/>
<polyline points="156.3,153.1 171.7,163.7 187.1,174.2 202.6,184.7 218.0,195.3 233.4,205.8 248.8,216.4 264.2,227.0 279.6,237.5 295.0,248.0 310.5,258.6" fill="none" stroke="#000" stroke-width="6.0" stroke-linecap="butt" stroke-linejoin="round"/>
<polyline points="160.9,156.7 175.9,166.9 190.8,177.1 205.8,187.4 220.7,197.6 235.7,207.8 250.6,218.1 265.6,228.3 280.5,238.5 295.5,248.8 310.4,259.0" fill="none" stroke="#999" stroke-width="0.7" stroke-linecap="butt" stroke-linejoin="round"/>
<rect x="165.7" y="162.6" width="2.8" height="3" fill="#000"/>
<rect x="176.7" y="170.2" width="2.8" height="3" fill="#000"/>
<rect x="187.7" y="177.7" width="2.8" height="3" fill="#000"/>
<rect x="198.8" y="185.2" width="2.8" height="3" fill="#000"/>
<rect x="209.8" y="192.8" width="2.8" height="3" fill="#000"/>
<rect x="220.8" y="200.3" width="2.8" height="3" fill="#000"/>
<rect x="231.8" y="207.8" width="2.8" height="3" fill="#000"/>
<rect x="242.8" y="215.4" width="2.8" height="3" fill="#000"/>
<rect x="253.8" y="222.9" width="2.8" height="3" fill="#000"/>
<rect x="264.8" y="230.5" width="2.8" height="3" fill="#000"/>
<rect x="275.8" y="238.0" width="2.8" height="3" fill="#000"/>
<rect x="286.8" y="245.5" width="2.8" height="3" fill="#000"/>
<rect x="297.9" y="253.1" width="2.8" height="3" fill="#000"/>
<polyline points="190.8,137.0 206.4,147.7 222.0,158.3 237.6,169.0 253.2,179.6 268.7,190.3 284.3,201.0 299.9,211.6 315.5,222.3 331.1,232.9 346.7,243.6" fill="none" stroke="#000" stroke-width="6.0" stroke-linecap="butt" stroke-linejoin="round"/>
<polyline points="195.4,140.6 210.6,150.9 225.7,161.3 240.8,171.6 255.9,182.0 271.1,192.3 286.2,202.6 301.3,213.0 316.4,223.3 331.6,233.7 346.7,244.0" fill="none" stroke="#999" stroke-width="0.7" stroke-linecap="butt" stroke-linejoin="round"/>
<rect x="200.3" y="146.6" width="2.8" height="3" fill="#000"/>
<rect x="211.5" y="154.2" width="2.8" height="3" fill="#000"/>
<rect x="222.6" y="161.8" width="2.8" height="3" fill="#000"/>
<rect x="233.7" y="169.5" width="2.8" height="3" fill="#000"/>
<rect x="244.9" y="177.1" width="2.8" height="3" fill="#000"/>
<rect x="256.0" y="184.7" width="2.8" height="3" fill="#000"/>
<rect x="267.2" y="192.3" width="2.8" height="3" fill="#000"/>
<rect x="278.3" y="199.9" width="2.8" height="3" fill="#000"/>
<rect x="289.4" y="207.5" width="2.8" height="3" fill="#000"/>
<rect x="300.6" y="215.1" width="2.8" height="3" fill="#000"/>
<rect x="311.7" y="222.8" width="2.8" height="3" fill="#000"/>
<rect x="322.8" y="230.4" width="2.8" height="3" fill="#000"/>
<rect x="334.0" y="238.0" width="2.8" height="3" fill="#000"/>
<polygon points="87.6,186.0 229.0,284.0 238.0,291.0 236.8,341.5 233.5,329.5 83.7,227.5" stroke="none" stroke-width="0" fill="#fff" />
<line x1="87.4" y1="184.2" x2="83.7" y2="228.0" stroke="#000" stroke-width="2.6" />
<line x1="83.7" y1="227.5" x2="233.5" y2="329.5" stroke="#000" stroke-width="2.6" />
<circle cx="86.3" cy="215.5" r="1.8" fill="#000"/>
<polygon points="114.5,243.0 119.5,246.5 119.5,250.0 114.5,247.0" stroke="#000" stroke-width="1.5" fill="none" />
<line x1="87.8" y1="186.6" x2="229.0" y2="284.8" stroke="#000" stroke-width="5.4" />
<line x1="93.0" y1="190.6" x2="225.0" y2="282.4" stroke="#777" stroke-width="0.8" />
<line x1="229.0" y1="284.5" x2="239.0" y2="291.5" stroke="#8a8a8a" stroke-width="3.6" />
<line x1="227.0" y1="325.0" x2="235.0" y2="331.0" stroke="#8a8a8a" stroke-width="2.5" />
<polygon points="238.2,284.0 386.0,219.0 382.4,274.2 236.8,341.5" stroke="none" stroke-width="0" fill="#fff" />
<line x1="238.2" y1="285.0" x2="236.8" y2="341.5" stroke="#000" stroke-width="2.6" />
<line x1="241.3" y1="292.0" x2="239.8" y2="340.2" stroke="#000" stroke-width="1.6" />
<line x1="236.8" y1="341.8" x2="382.6" y2="274.4" stroke="#000" stroke-width="2.6" />
<line x1="385.8" y1="218.8" x2="382.4" y2="274.6" stroke="#000" stroke-width="2.6" />
<line x1="241.1" y1="295.8" x2="387.0" y2="228.6" stroke="#8a8a8a" stroke-width="1.8" />
<polygon points="238.6,275.9 387.0,202.9 389.0,219.4 238.6,288.9" stroke="none" stroke-width="0" fill="#fff" />
<polygon points="238.6,276.4 387.0,204.4 387.0,207.3 238.6,278.9" stroke="none" stroke-width="0" fill="#000" />
<polygon points="238.6,280.8 387.0,209.4 387.0,213.3 238.6,284.4" stroke="none" stroke-width="0" fill="#000" />
<polygon points="238.6,286.4 387.0,215.4 387.0,218.6 238.6,289.0" stroke="none" stroke-width="0" fill="#000" />
<line x1="238.3" y1="277.3" x2="238.6" y2="289.5" stroke="#000" stroke-width="2.4" />
<polyline points="383.5,205.8 389.0,210.6 388.5,218.0 384.5,219.8" stroke="#000" stroke-width="2.4" fill="none" stroke-linejoin="round"/>
<polygon points="265.2,295.8 284.2,287.4 283.8,300.0 264.7,308.3" stroke="#000" stroke-width="2.7" fill="none" stroke-linejoin="round"/>
<polygon points="340.3,261.3 360.8,252.4 360.2,265.2 339.8,274.0" stroke="#000" stroke-width="2.7" fill="none" stroke-linejoin="round"/>
</g>
</svg>
</body></html>
